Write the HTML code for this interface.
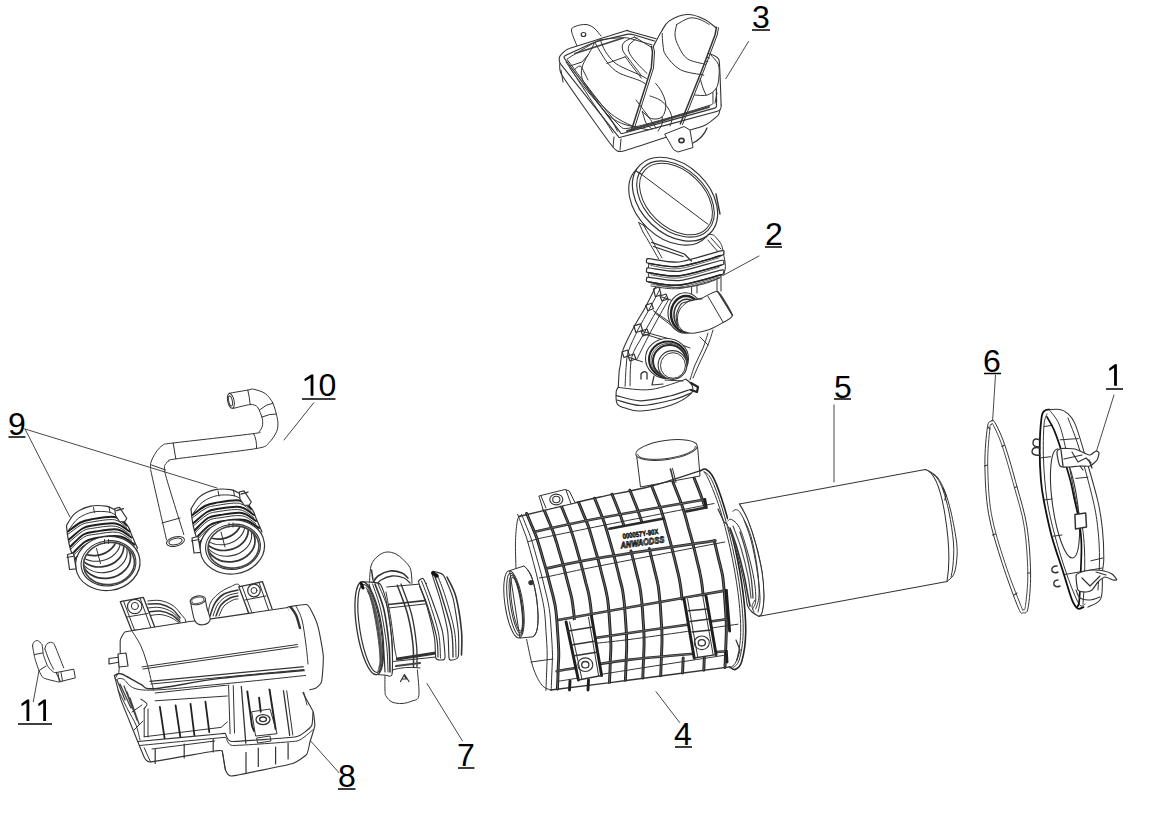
<!DOCTYPE html>
<html><head><meta charset="utf-8"><style>
html,body{margin:0;padding:0;background:#fff;width:1156px;height:829px;overflow:hidden}
svg{display:block}
text{font-family:"Liberation Sans",sans-serif;fill:#000}
</style></head><body>
<svg width="1156" height="829" viewBox="0 0 1156 829">
<g fill="none" stroke="#333" stroke-width="1" stroke-linejoin="round" stroke-linecap="round">
<g id="labels" stroke="none">
<text x="752" y="27.7" font-size="32">3</text>
<text x="765" y="244.7" font-size="32">2</text>
<text x="834" y="397.7" font-size="32">5</text>
<text x="983" y="371.7" font-size="32">6</text>
<path fill="#000" stroke="none" d="M1116.9,364.2 L1116.9,385.7 L1114.1000000000001,385.7 L1114.1000000000001,367.8 L1109.5,371.0 L1109.1,368.59999999999997 L1114.7,364.2 Z"/>
<text x="674" y="744.7" font-size="32">4</text>
<text x="457" y="765.7" font-size="32">7</text>
<text x="338" y="786.7" font-size="32">8</text>
<text x="8" y="434.7" font-size="32">9</text>
<path fill="#000" stroke="none" d="M313.4,374.5 L313.4,395.8 L310.59999999999997,395.8 L310.59999999999997,378.1 L304.79999999999995,381.3 L304.4,378.9 L311.2,374.5 Z"/><text x="318.5" y="396" font-size="32">0</text>
<path fill="#000" stroke="none" d="M29.3,699.4 L29.3,720.9 L26.5,720.9 L26.5,703.0 L21.7,706.1999999999999 L21.3,703.8 L27.1,699.4 Z"/><path fill="#000" stroke="none" d="M46,699.4 L46,720.9 L43.2,720.9 L43.2,703.0 L38.6,706.1999999999999 L38.2,703.8 L43.8,699.4 Z"/>
</g>
<g id="underlines" stroke="#000" stroke-width="1.6" stroke-linecap="butt">
<path d="M752,30H770 M765,247H782 M834,399H851 M984,373.5H1001 M1106,389H1123 M675,747H692 M458,768H474.5 M338,789H355.5 M8.5,437H25.5 M302,399H335.5 M18,724H52"/>
</g>
<g id="leaders" stroke="#333" stroke-width="0.9">
<path d="M748.5,41.5L725.8,78.7"/>
<path d="M759,256L723,275.5"/>
<path d="M834,405V482"/>
<path d="M995.5,375L992.6,421"/>
<path d="M1114,395L1094,459"/>
<path d="M656,691.6L679.6,722.5"/>
<path d="M427,683.5L462.3,740.7"/>
<path d="M310.4,740.7L339,772.7"/>
<path d="M25,429L69.9,517 M25,429L217,488"/>
<path d="M313.8,402.7L284,440"/>
<path d="M33.3,701.8L39,670.6"/>
</g>

<g id="p2">
<path fill="#fff" stroke="none" d="M655.6,286.9C655.2,289.2 647.6,303.1 645.8,306.5C644.0,309.9 635.8,323.5 633.9,327.1C632.0,330.7 624.2,346.2 623.0,349.9C621.8,353.6 619.6,367.9 619.2,371.0C618.8,374.1 618.5,385.7 618.2,387.4C618.0,389.1 616.3,390.1 616.2,391.5C616.1,392.9 615.2,402.2 617.2,403.8C619.2,405.4 636.3,410.9 640.8,411.0C645.3,411.1 667.3,406.3 671.5,404.9C675.7,403.4 689.3,395.2 691.0,393.6C692.7,392.0 692.2,386.9 692.0,385.4C691.8,383.8 688.2,377.5 688.0,375.0C687.8,372.5 689.0,358.5 690.0,355.0C691.0,351.5 697.2,335.7 700.0,333.0C702.8,330.3 720.5,323.9 723.2,322.4C725.9,320.9 732.8,317.8 732.3,315.2C731.8,312.6 718.7,295.0 717.8,291.7C716.9,288.4 727.6,277.1 722.0,276.0C716.4,274.9 655.5,278.1 650.0,279.0C644.5,279.9 656.0,284.6 655.6,286.9Z"/>
<path stroke-width="1.1" d="M655.6,286.9C654.0,290.2 649.4,299.8 645.8,306.5C642.2,313.2 637.7,319.9 633.9,327.1C630.1,334.3 625.3,343.6 623.0,349.9C620.7,356.2 620.9,361.5 620.3,365.0C619.7,368.5 619.6,367.3 619.2,371.0C618.9,374.7 618.4,384.7 618.2,387.4"/>
<path d="M660.0,289.0C658.2,292.4 652.6,303.0 649.0,309.7C645.4,316.4 641.6,322.4 638.2,329.3C634.8,336.2 630.5,345.1 628.5,351.0C626.5,356.9 626.9,358.8 626.3,365.0C625.7,371.2 625.2,384.2 625.0,388.0"/>
<path d="M665.4,296.7C663.4,300.0 657.2,309.8 653.4,316.3C649.6,322.8 646.2,328.9 642.6,335.8C639.0,342.7 633.8,348.8 631.7,357.5C629.6,366.2 630.3,382.9 630.0,388.0"/>
<path d="M668.6,299.6C666.8,302.8 661.3,312.3 657.8,318.7C654.3,325.1 651.0,331.1 647.5,338.0C644.0,344.9 638.3,356.3 636.5,360.0"/>
<path d="M661,296.7 L670.8,300"/>
<path d="M653.4,310.8 L675.1,326"/>
<path d="M642.6,331.5 L674,340.1"/>
<path d="M629.5,357.5 L642.6,361.9"/>
<path d="M675,342.3 L690,348"/>
<path d="M700,337 L708,345"/>
<path d="M655,313 L676,329"/>
<path d="M644,334 L672,342.5"/>
<path stroke-width="1.2" d="M653.4,289 L659,287 L661,294.7 L655.4,296.7 Z"/>
<path stroke-width="1.2" d="M645.8,305.2 L651.4,303.2 L653.4,308.8 L647.8,310.8 Z"/>
<path stroke-width="1.2" d="M633.9,325.9 L640.6,323.9 L642.6,330.5 L635.9,332.5 Z"/>
<path stroke-width="1.2" d="M622,352 L627.5,350 L629.5,355.5 L624,357.5 Z"/>
<path stroke-width="1.2" d="M660,296 L666,294 L668,299 L662,301 Z"/>
<path stroke-width="1.2" d="M641,331 L647,329 L649,334 L643,336 Z"/>
<path stroke-width="1.2" d="M628,356 L634,354 L636,359 L630,361 Z"/>
<path d="M708.0,333.0C707.2,335.5 705.2,342.7 703.0,348.0C700.8,353.3 697.2,359.7 695.0,365.0C692.8,370.3 690.8,377.5 690.0,380.0"/>
<path d="M713.0,330.0C712.2,332.5 710.2,339.7 708.0,345.0C705.8,350.3 702.5,356.5 700.0,362.0C697.5,367.5 694.2,375.3 693.0,378.0"/>
<path d="M691.6,286.5 L691.6,293.5 M697,286 L697,293 M717,278 L717,292 M721,277 L721,291"/>
<path fill="#fff" stroke-width="1.1" d="M618.2,387.4C617.9,388.1 616.4,388.8 616.2,391.5C616.0,394.2 615.7,401.1 617.2,403.8C618.7,406.6 621.1,406.8 625.0,408.0C628.9,409.2 633.0,411.5 640.8,411.0C648.5,410.5 663.1,407.8 671.5,404.9C679.9,402.0 687.6,396.9 691.0,393.6C694.4,390.4 692.9,387.8 692.0,385.4C691.1,383.0 686.9,380.2 685.9,379.2"/>
<path d="M618.2,387.4C623.7,387.8 639.7,390.9 651.0,389.5C662.3,388.1 680.1,380.9 685.9,379.2"/>
<path stroke-width="1.2" d="M616.5,395.6C620.5,396.5 631.9,400.7 640.8,400.8C649.7,400.9 661.8,397.9 670.0,396.0C678.2,394.1 686.7,390.6 690.0,389.5"/>
<path stroke-width="1.2" d="M617.0,400.0C621.0,400.9 631.6,405.5 640.8,405.5C650.0,405.5 663.6,402.1 672.0,400.0C680.4,397.9 687.8,394.2 691.0,393.0"/>
<path stroke="#222" stroke-width="2.2" d="M691,383 L698,387 L697,392 L691,390"/>
<path stroke-width="1.3" d="M641,379 L641,374 Q644,370 647,373 L647,379"/>
<ellipse cx="667" cy="358.5" rx="21.5" ry="20" stroke-width="1.1" fill="#fff"/>
<ellipse cx="668" cy="359.5" rx="19" ry="18" stroke="#222" stroke-width="2"/>
<ellipse cx="669.5" cy="361" rx="16.5" ry="16" stroke="#2a2a2a" stroke-width="2"/>
<ellipse cx="668.8" cy="360.3" rx="17.8" ry="17" stroke="#555" stroke-width="1"/>
<ellipse cx="672.5" cy="365" rx="14.4" ry="14.4" fill="#fff" stroke-width="1.1"/>
<ellipse cx="673" cy="365.5" rx="12.5" ry="12.8"/>
<path stroke-width="1.2" d="M654,376 L652,385 L663,384 M665,380 L683,381"/>
<ellipse cx="685.2" cy="313" rx="17.2" ry="20.3" stroke-width="1.1" fill="#fff"/>
<ellipse cx="686" cy="314" rx="15" ry="18" stroke="#222" stroke-width="2.4"/>
<ellipse cx="686.8" cy="315" rx="12.8" ry="15.8" stroke="#333" stroke-width="1.6"/>
<path fill="#fff" stroke-width="1.1" d="M695.2,299.8C697.3,299.2 700.1,298.8 702.4,298.0C704.7,297.2 714.8,290.0 717.8,291.7C720.8,293.4 731.8,312.1 732.3,315.2C732.8,318.3 725.6,320.9 723.2,322.4C720.9,323.8 712.0,328.6 708.8,329.7C705.6,330.8 694.6,333.4 691.6,333.3C688.6,333.2 680.4,330.6 678.9,328.8C677.4,327.0 675.9,317.7 676.2,315.2C676.5,312.7 679.7,305.0 681.6,303.5C683.5,302.0 693.1,300.4 695.2,299.8Z"/>
<path d="M707.9,296.2 L723.2,322.4"/><path stroke-width="1.3" d="M717.8,291.7 L732.3,315.2"/>
<path d="M702.0,299.0C699.8,299.3 692.8,299.0 689.0,301.0C685.2,303.0 680.8,307.2 679.0,311.0C677.2,314.8 677.2,320.5 678.0,324.0C678.8,327.5 683.0,330.7 684.0,332.0"/>
<path fill="#fff" d="M649.0,259.8C649.5,263.5 645.6,277.2 651.8,281.8C658.0,286.4 674.5,288.3 686.2,287.2C698.0,286.1 716.2,281.4 722.3,275.4C728.4,269.4 723.7,257.2 723.0,251.3C722.3,245.4 720.7,242.8 718.2,240.0C715.7,237.2 714.4,233.7 708.0,234.4C701.6,235.1 691.5,246.0 680.0,244.0C668.5,242.0 645.7,226.2 638.8,222.6"/>
<path fill="#fff" stroke-width="1.2" d="M647.0,278.1C647.3,277.8 645.3,277.0 649.0,277.3C652.7,277.6 670.6,281.4 679.0,280.6C687.4,279.8 715.8,271.1 721.0,270.1C726.2,269.1 723.5,271.7 723.5,272.2C723.5,272.7 726.2,273.3 721.0,274.8C715.8,276.3 687.4,284.3 679.0,285.1C670.6,285.9 652.8,282.6 649.0,282.0C645.2,281.4 646.7,280.6 646.5,280.1C646.3,279.6 646.7,278.4 647.0,278.1Z"/>
<path stroke="#222" stroke-width="1.5" d="M649.0,282.0C654.0,282.5 667.0,286.3 679.0,285.1C691.0,283.9 714.0,276.5 721.0,274.8"/>
<path stroke="#555" stroke-width="0.9" d="M651.0,284.1C655.7,284.6 667.7,288.4 679.0,287.2C690.3,286.0 712.3,278.7 719.0,277.0"/>
<path fill="#fff" stroke-width="1.2" d="M647.0,268.8C647.3,268.5 645.3,267.7 649.0,268.0C652.7,268.3 670.6,272.2 679.0,271.3C687.4,270.4 715.8,261.5 721.0,260.5C726.2,259.5 723.5,262.1 723.5,262.6C723.5,263.1 726.2,263.7 721.0,265.2C715.8,266.7 687.4,274.9 679.0,275.8C670.6,276.7 652.8,273.3 649.0,272.7C645.2,272.1 646.7,271.3 646.5,270.8C646.3,270.3 646.7,269.1 647.0,268.8Z"/>
<path stroke="#222" stroke-width="1.5" d="M649.0,272.7C654.0,273.2 667.0,277.1 679.0,275.8C691.0,274.6 714.0,267.0 721.0,265.2"/>
<path stroke="#555" stroke-width="0.9" d="M651.0,274.8C655.7,275.3 667.7,279.1 679.0,277.9C690.3,276.7 712.3,269.2 719.0,267.4"/>
<path fill="#fff" stroke-width="1.2" d="M647.0,259.5C647.3,259.2 645.3,258.4 649.0,258.7C652.7,259.0 670.6,262.9 679.0,262.0C687.4,261.1 715.8,252.0 721.0,250.9C726.2,249.8 723.5,252.5 723.5,253.0C723.5,253.5 726.2,254.0 721.0,255.6C715.8,257.2 687.4,265.6 679.0,266.5C670.6,267.4 652.8,264.0 649.0,263.4C645.2,262.8 646.7,262.0 646.5,261.5C646.3,261.0 646.7,259.8 647.0,259.5Z"/>
<path stroke="#222" stroke-width="1.5" d="M649.0,263.4C654.0,263.9 667.0,267.8 679.0,266.5C691.0,265.2 714.0,257.4 721.0,255.6"/>
<path stroke="#555" stroke-width="0.9" d="M651.0,265.5C655.7,266.0 667.7,269.9 679.0,268.6C690.3,267.3 712.3,259.6 719.0,257.8"/>
<path stroke="#444" stroke-width="1" d="M651.0,286.0C655.8,286.4 668.5,289.8 680.0,288.5C691.5,287.2 713.3,279.8 720.0,278.0"/>
<path d="M638.8,222.6C639.5,224.2 641.5,229.1 643.0,232.0C644.5,234.9 645.2,235.5 647.8,240.0C650.4,244.5 656.9,255.8 658.7,259.0"/>
<path d="M643.0,224.0C643.8,225.5 646.5,230.3 648.0,233.0C649.5,235.7 649.7,235.8 652.0,240.0C654.3,244.2 660.3,255.0 662.0,258.0"/>
<path stroke-width="1.3" d="M651.7,242.3 L684.4,254 L691.4,261 M653.5,246.5 L683,256.5"/>
<path d="M707.8,240 L717.9,251.7 M711,238 L721,249"/>
<ellipse cx="671" cy="203.5" rx="48.5" ry="34" transform="rotate(43.7 671 203.5)" fill="#fff" stroke-width="1.1"/>
<ellipse cx="675" cy="199.2" rx="48.9" ry="34.3" transform="rotate(43.7 675 199.2)" fill="#fff" stroke-width="1.2"/>
<ellipse cx="675.5" cy="199" rx="45" ry="30.5" transform="rotate(43.7 675.5 199)" stroke-width="1.1"/>
<ellipse cx="676" cy="199" rx="42.5" ry="28.3" transform="rotate(43.7 676 199)" stroke-width="1"/>
<path d="M640.5,173.6 L708,224.3"/>
<path stroke-width="1.4" d="M636,171 L641,174 M716,194 L720,214"/>
</g>
<g id="p3">
<path fill="#fff" d="M577.0,46.0C576.1,43.5 571.8,34.2 571.5,31.0C571.2,27.8 572.6,27.6 575.0,26.5C577.4,25.4 582.8,24.2 586.0,24.5C589.2,24.8 591.5,26.1 594.0,28.0C596.5,29.9 599.8,34.7 601.0,36.0"/>
<ellipse cx="583.5" cy="34.5" rx="2.3" ry="2" stroke-width="1.2"/>
<path fill="#fff" stroke-width="1.05" d="M560.0,60.0C560.1,61.1 558.7,69.1 560.9,73.3C563.1,77.5 581.6,103.8 586.0,110.0C590.4,116.2 610.3,144.1 613.3,147.5C616.3,150.9 617.9,152.1 622.4,151.2C626.9,150.3 660.8,138.8 667.6,136.7C674.4,134.6 699.6,127.6 703.8,125.8C708.0,124.0 716.9,116.8 718.3,115.0C719.7,113.2 720.8,104.9 721.0,104.0"/>
<path d="M561,70 L563,82 M614,137 L613,147 M621,139 L620,150"/>
<path fill="#fff" d="M665.0,134.0 L684.0,126.5 L690.0,130.0 L693.0,147.5 L678.0,152.0 L674.0,150.0Z"/>
<ellipse cx="681.5" cy="140.5" rx="2.6" ry="2.1" stroke-width="1.6"/>
<path stroke-width="1.3" d="M693,143 Q703,138 707,128"/>
<path fill="#fff" stroke-width="1.1" d="M560.0,56.1C560.4,55.3 564.8,50.2 568.1,48.9C571.4,47.6 622.9,31.7 626.0,30.8C629.1,29.9 625.8,30.3 630.0,31.5C634.2,32.7 706.5,52.8 711.0,54.3C715.5,55.8 718.7,58.2 719.2,60.7C719.7,63.2 721.1,101.6 721.0,104.1C720.9,106.6 722.3,109.7 717.4,111.3C712.5,112.9 627.4,135.5 622.4,136.7C617.4,137.9 620.1,138.5 617.0,134.9C613.9,131.3 563.8,68.2 560.9,64.3C558.0,60.4 559.6,56.9 560.0,56.1Z"/>
<path stroke-width="1.2" d="M565.6,60.0C562.9,56.3 564.1,56.4 565.6,55.5C567.1,54.6 591.7,43.4 594.8,42.3C597.9,41.2 624.7,34.7 626.7,34.3C628.7,33.9 630.5,33.8 634.6,35.0C638.7,36.2 705.2,56.6 709.2,58.0C713.2,59.4 715.2,60.2 715.6,62.5C716.0,64.8 716.6,101.8 716.5,104.1C716.4,106.4 717.5,107.2 712.9,108.6C708.3,110.0 628.9,131.9 624.2,133.0C619.5,134.1 621.7,134.0 618.8,130.3C615.9,126.7 568.3,63.7 565.6,60.0Z"/>
<path d="M569.0,62.0C566.2,58.5 566.8,59.3 568.3,58.2C569.8,57.1 595.8,41.3 598.8,40.3C601.8,39.3 622.6,36.9 628.0,38.0C633.4,39.1 702.8,60.1 707.0,61.5C711.2,62.9 711.7,63.5 712.0,65.5C712.3,67.5 713.1,100.0 713.0,102.0C712.9,104.0 713.5,104.2 709.0,105.5C704.5,106.8 630.3,130.7 623.3,128.5C616.3,126.3 571.8,65.5 569.0,62.0Z"/>
<path stroke="#444" stroke-width="2" d="M627.0,131.0 L709.0,107.0"/>
<path stroke="#444" stroke-width="1.8" d="M575.0,53.5 L623.0,38.0"/>
<path d="M594.8,42.3C594.1,43.6 592.8,46.5 590.8,50.2C588.8,54.0 584.4,60.6 582.9,64.8C581.4,69.0 581.1,72.1 581.5,75.4C581.9,78.7 582.2,79.8 585.5,84.7C588.8,89.6 596.5,99.3 601.4,104.6C606.3,109.9 609.6,113.1 614.7,116.6C619.8,120.1 626.5,123.6 632.0,125.8C637.5,128.0 645.2,129.1 647.9,129.8"/>
<path d="M594.8,42.3C595.7,43.8 597.9,48.0 600.1,51.5C602.3,55.0 605.0,60.0 608.1,63.5C611.2,67.0 613.4,69.9 618.7,72.8C624.0,75.7 635.0,78.5 639.9,80.7C644.8,82.9 645.9,84.5 647.9,86.0C649.9,87.5 651.3,89.3 652.0,90.0"/>
<path d="M600.1,39.6C601.0,41.6 603.1,47.8 605.4,51.5C607.7,55.2 610.9,59.2 614.0,62.0C617.1,64.8 619.3,65.7 624.0,68.0C628.7,70.3 637.3,73.7 642.0,76.0C646.7,78.3 650.3,81.0 652.0,82.0"/>
<path d="M606.8,63.5 L625.3,56.8"/>
<path d="M625.3,56.8C626.4,58.3 629.3,62.5 632.0,66.0C634.7,69.5 639.8,76.1 641.3,78.1"/>
<path d="M634.6,37.0C632.8,37.9 626.0,40.1 624.0,42.3C622.0,44.5 621.8,47.3 622.7,50.2C623.6,53.1 626.2,55.3 629.3,59.5C632.4,63.7 639.3,72.8 641.3,75.4"/>
<path d="M637.0,38.0C635.7,39.1 630.6,42.6 629.3,44.9C628.0,47.2 627.9,49.1 629.0,52.0C630.1,54.9 632.4,58.1 636.0,62.2C639.6,66.3 648.1,74.4 650.5,76.8"/>
<path d="M634.6,37.0 L651.9,47.6"/>
<path d="M569.6,67.5C571.3,69.9 575.8,76.6 580.0,82.0C584.2,87.4 590.0,94.0 595.0,100.0C600.0,106.0 606.3,112.8 610.0,118.0C613.7,123.2 616.2,129.0 617.4,131.2"/>
<path d="M566.0,62.0C568.0,65.0 573.5,73.2 578.0,80.0C582.5,86.8 588.3,96.0 593.0,103.0C597.7,110.0 602.7,117.0 606.0,122.0C609.3,127.0 611.8,131.2 613.0,133.0"/>
<path d="M570.0,66.0 L582.0,62.0 L588.0,55.0"/><path d="M574.0,70.0C575.0,69.3 578.3,65.7 580.0,66.0C581.7,66.3 582.7,69.7 584.0,72.0C585.3,74.3 587.3,78.7 588.0,80.0"/>
<path d="M597.5,102.0C599.3,104.2 604.1,111.7 608.1,115.2C612.1,118.7 616.8,121.2 621.3,123.2C625.8,125.2 632.7,126.4 635.0,127.0"/>
<path fill="#fff" d="M651.3,78.8C652.8,80.6 658.0,85.4 660.4,89.6C662.8,93.8 665.5,99.6 665.8,104.1C666.1,108.6 664.6,114.4 662.2,116.8C659.8,119.2 654.6,119.5 651.3,118.6C648.0,117.7 643.8,112.5 642.3,111.3"/>
<path d="M642.3,111.3C642.9,113.2 644.4,120.0 646.0,123.0C647.6,126.0 651.0,128.0 652.0,129.0"/>
<path d="M662.2,116.8C662.2,118.0 662.7,121.6 662.0,124.0C661.3,126.4 658.7,129.8 658.0,131.0"/>
<path fill="#fff" d="M711.0,55.2C712.2,56.7 717.0,60.8 718.3,64.3C719.6,67.8 719.3,72.1 719.0,76.0C718.7,79.9 718.4,84.6 716.5,87.8C714.6,91.0 711.0,93.8 707.4,95.0C703.8,96.2 696.9,95.0 694.8,95.0"/>
<path d="M700.2,78.8C700.7,80.3 702.0,85.3 703.0,88.0C704.0,90.7 705.5,93.8 706.0,95.0"/>
<path d="M715.0,103.0 L717.0,93.0"/>
<path fill="#fff" stroke="none" d="M651.3,46.2 L661.3,31.7 L687.5,14.5 L716.5,28.1 L702.0,69.7 L690.0,90.0 L660.0,80.0 L645.0,90.0Z"/>
<path stroke-width="1.1" d="M653.0,47.0C654.4,44.5 658.6,36.0 661.3,31.7C664.0,27.3 665.0,23.8 669.4,20.9C673.8,18.0 681.8,14.8 687.5,14.5C693.2,14.2 699.0,16.7 703.8,19.0C708.6,21.3 714.4,26.6 716.5,28.1"/>
<path d="M676.7,24.5C678.8,23.4 685.4,18.9 689.3,18.1C693.2,17.3 696.7,18.4 700.0,19.5C703.3,20.6 707.7,23.7 709.2,24.5"/>
<path d="M676.7,24.5C676.4,26.2 674.7,31.4 675.0,35.0C675.3,38.6 676.4,42.2 678.5,46.2C680.6,50.2 683.0,55.9 687.5,58.9C692.0,61.9 702.6,63.4 705.6,64.3"/>
<path d="M662.2,33.5C662.3,35.4 662.4,41.4 663.0,45.0C663.6,48.6 662.9,51.1 665.8,55.2C668.7,59.3 674.0,66.4 680.3,69.7C686.6,73.0 699.9,74.2 703.8,75.1"/>
<path d="M650.0,96.0C651.7,96.7 657.0,98.0 660.0,100.0C663.0,102.0 666.0,105.0 668.0,108.0C670.0,111.0 671.7,115.0 672.0,118.0C672.3,121.0 670.3,124.7 670.0,126.0"/>
<path d="M636.0,100.0C638.0,102.7 644.7,111.3 648.0,116.0C651.3,120.7 654.7,126.0 656.0,128.0"/>
<path stroke-width="1.5" d="M651.3,46.2 L652.5,52 L651.3,67.9 L631.4,130.3"/><path d="M653.5,47 L654.5,52 L653.5,68 L633.6,130.8"/>
<path stroke-width="1.5" d="M716.5,27.2 L715,35 L702,69.7 L680.3,124"/><path d="M718.5,27.7 L717.2,35 L704,70 L682.5,124.5"/>
</g>
<g id="p4">
<path fill="#fff" stroke="none" d="M519.0,516.5C526.0,512.9 584.9,500.8 600.0,497.0C615.1,493.2 691.8,472.9 700.6,470.6C709.4,468.3 704.8,468.6 705.9,469.3C707.0,470.0 712.4,475.4 713.9,478.6C715.4,481.8 722.7,502.0 724.5,507.7C726.3,513.4 733.5,540.4 735.0,547.5C736.5,554.6 742.1,585.5 743.0,592.6C743.9,599.7 745.8,626.6 745.7,632.4C745.6,638.1 742.6,658.5 741.7,661.6C740.8,664.7 736.0,669.1 735.0,669.5C734.0,669.9 738.5,666.0 729.8,666.9C721.0,667.8 644.9,678.1 630.0,680.0C615.1,681.9 558.1,689.6 550.7,690.0C543.4,690.4 543.3,686.9 541.8,685.0C540.3,683.1 534.3,671.0 533.0,667.2C531.7,663.4 528.0,647.6 526.6,639.4C525.2,631.2 517.3,576.7 516.5,568.5C515.7,560.3 516.3,544.9 516.5,540.6C516.7,536.3 512.0,520.1 519.0,516.5Z"/>
<path fill="#fff" d="M636.8,457 L640.5,487 L700,476 L697.6,447"/>
<ellipse cx="666.5" cy="450.0" rx="31.0" ry="9.5" transform="rotate(-8 666.5 450.0)"/>
<path d="M695.2,446.5C695.1,446.8 695.1,447.8 694.6,448.5C694.2,449.2 693.4,449.9 692.4,450.6C691.5,451.3 690.2,452.0 688.7,452.7C687.3,453.4 685.6,454.1 683.7,454.7C681.9,455.4 679.8,456.0 677.7,456.5C675.6,457.0 673.3,457.5 671.1,457.9C668.8,458.3 666.4,458.6 664.1,458.9C661.9,459.1 659.5,459.3 657.4,459.3C655.2,459.4 653.0,459.4 651.1,459.3C649.2,459.2 647.3,459.0 645.7,458.8C644.2,458.5 642.7,458.2 641.6,457.8C640.4,457.3 639.5,456.9 638.9,456.3C638.2,455.8 638.0,454.8 637.8,454.5"/>
<path stroke-width="1.3" d="M519.0,516.5C525.8,514.8 546.5,509.8 560.0,506.5C573.5,503.2 585.0,500.3 600.0,497.0C615.0,493.7 633.2,490.9 650.0,486.5C666.8,482.1 692.2,473.2 700.6,470.6"/>
<path stroke-width="1.3" d="M550.7,690.0C563.9,688.3 600.1,683.9 630.0,680.0C659.9,676.1 713.2,669.1 729.8,666.9"/>
<path d="M521.0,515.5C520.4,516.2 518.4,515.8 517.5,520.0C516.6,524.2 515.8,532.5 515.5,540.6C515.2,548.7 515.9,563.9 516.0,568.5"/>
<path d="M526.6,639.4C527.7,644.0 530.5,659.6 533.0,667.2C535.5,674.8 538.8,681.2 541.8,685.0C544.8,688.8 549.2,689.2 550.7,690.0"/>
<path d="M517.6,514.4C518.4,516.4 520.7,522.2 522.2,526.1C523.6,530.0 525.3,534.0 526.6,537.9C527.8,541.8 528.8,545.7 529.9,549.6C531.0,553.5 532.0,557.4 533.1,561.3C534.1,565.2 535.2,569.2 536.2,573.1C537.2,577.0 538.1,580.9 539.0,584.8C539.9,588.7 540.9,592.6 541.8,596.5C542.6,600.4 543.5,604.4 544.1,608.3C544.7,612.2 545.0,616.1 545.3,620.0C545.6,623.9 545.8,627.8 546.0,631.7C546.3,635.6 546.6,639.6 546.8,643.5C547.0,647.4 547.2,651.3 547.2,655.2C547.2,659.1 546.9,663.0 546.8,666.9C546.7,670.8 546.5,674.8 546.4,678.7C546.2,682.6 546.0,688.4 545.9,690.4"/>
<path d="M521.6,514.4C522.4,516.4 524.8,522.2 526.3,526.1C527.9,530.0 529.6,534.0 530.9,537.9C532.3,541.8 533.3,545.7 534.4,549.6C535.6,553.5 536.6,557.4 537.7,561.3C538.8,565.2 540.0,569.2 541.0,573.1C542.1,577.0 543.0,580.9 543.9,584.8C544.9,588.7 545.9,592.6 546.8,596.5C547.7,600.4 548.6,604.4 549.2,608.3C549.8,612.2 550.2,616.1 550.5,620.0C550.8,623.9 551.0,627.8 551.3,631.7C551.5,635.6 551.8,639.6 552.0,643.5C552.2,647.4 552.5,651.3 552.5,655.2C552.5,659.1 552.2,663.0 552.1,666.9C551.9,670.8 551.8,674.8 551.6,678.7C551.5,682.6 551.2,688.4 551.2,690.4"/>
<path d="M528.4,541.7 L538.0,538.7"/><path d="M539.3,577.9 L547.7,576.7"/>
<path d="M531.0,662.0 L553.0,659.0"/>
<path fill="#fff" d="M510,570.5 L524,566 C532,572 537,590 538,615 C538.5,628 536,636 533,636.8 L520.3,638 Z"/>
<ellipse cx="514.0" cy="604.3" rx="9.0" ry="34.0" transform="rotate(-8.5 514.0 604.3)"/>
<ellipse cx="515.0" cy="604.3" rx="7.0" ry="31.5" transform="rotate(-8.5 515.0 604.3)"/>
<ellipse cx="516.0" cy="604.3" rx="5.5" ry="29.0" transform="rotate(-8.5 516.0 604.3)"/>
<ellipse cx="516.5" cy="604.3" rx="4.5" ry="27.0" transform="rotate(-8.5 516.5 604.3)"/>
<path d="M524.0,566.0C525.2,567.5 529.0,570.2 531.0,575.0C533.0,579.8 534.8,588.3 536.0,595.0C537.2,601.7 537.8,609.2 538.0,615.0C538.2,620.8 537.8,626.4 537.0,630.0C536.2,633.6 533.7,635.7 533.0,636.8"/>
<circle cx="530.9" cy="582.7" r="2.2" fill="#333" stroke-width="1"/>
<path stroke="#1e1e1e" stroke-width="2.9" d="M526.6,513.4C527.4,515.4 529.9,521.2 531.5,525.1C533.2,529.0 534.9,532.9 536.3,536.8C537.7,540.7 538.8,544.6 540.0,548.5C541.1,552.4 542.3,556.4 543.4,560.3C544.6,564.2 545.8,568.1 546.8,572.0C547.9,575.9 548.8,579.8 549.8,583.7C550.8,587.6 551.9,591.5 552.9,595.4C553.8,599.3 554.7,603.2 555.4,607.1C556.0,611.0 556.4,614.9 556.7,618.8C557.1,622.7 557.3,626.6 557.5,630.5C557.8,634.4 558.1,638.3 558.3,642.3C558.5,646.2 558.8,650.1 558.8,654.0C558.8,657.9 558.5,661.8 558.3,665.7C558.2,669.6 558.0,673.5 557.9,677.4C557.7,681.3 557.5,687.2 557.4,689.1"/><path stroke="#9a9a9a" stroke-width="0.6" d="M526.6,513.4C527.4,515.4 529.9,521.2 531.5,525.1C533.2,529.0 534.9,532.9 536.3,536.8C537.7,540.7 538.8,544.6 540.0,548.5C541.1,552.4 542.3,556.4 543.4,560.3C544.6,564.2 545.8,568.1 546.8,572.0C547.9,575.9 548.8,579.8 549.8,583.7C550.8,587.6 551.9,591.5 552.9,595.4C553.8,599.3 554.7,603.2 555.4,607.1C556.0,611.0 556.4,614.9 556.7,618.8C557.1,622.7 557.3,626.6 557.5,630.5C557.8,634.4 558.1,638.3 558.3,642.3C558.5,646.2 558.8,650.1 558.8,654.0C558.8,657.9 558.5,661.8 558.3,665.7C558.2,669.6 558.0,673.5 557.9,677.4C557.7,681.3 557.5,687.2 557.4,689.1"/>
<path stroke="#1e1e1e" stroke-width="2.9" d="M544.0,509.8C544.8,511.6 547.1,517.1 548.6,520.8C550.1,524.5 551.8,528.2 553.1,531.8C554.4,535.5 555.5,539.2 556.7,542.9C557.8,546.5 558.8,550.2 559.9,553.9C561.0,557.5 562.1,561.2 563.1,564.9C564.2,568.6 565.1,572.2 566.0,575.9C567.0,579.6 567.9,583.3 568.9,586.9C569.8,590.6 570.9,594.3 571.7,597.9C572.4,601.6 572.9,605.3 573.3,609.0C573.8,612.6 574.1,616.3 574.4,620.0C574.7,623.7 575.0,629.2 575.1,631.0"/><path stroke="#9a9a9a" stroke-width="0.6" d="M544.0,509.8C544.8,511.6 547.1,517.1 548.6,520.8C550.1,524.5 551.8,528.2 553.1,531.8C554.4,535.5 555.5,539.2 556.7,542.9C557.8,546.5 558.8,550.2 559.9,553.9C561.0,557.5 562.1,561.2 563.1,564.9C564.2,568.6 565.1,572.2 566.0,575.9C567.0,579.6 567.9,583.3 568.9,586.9C569.8,590.6 570.9,594.3 571.7,597.9C572.4,601.6 572.9,605.3 573.3,609.0C573.8,612.6 574.1,616.3 574.4,620.0C574.7,623.7 575.0,629.2 575.1,631.0"/>
<path stroke="#1e1e1e" stroke-width="2.9" d="M561.3,506.2C562.1,508.0 564.4,513.5 565.9,517.2C567.4,520.8 569.0,524.5 570.3,528.2C571.6,531.8 572.7,535.5 573.9,539.1C575.0,542.8 576.0,546.5 577.1,550.1C578.1,553.8 579.2,557.4 580.2,561.1C581.3,564.8 582.2,568.4 583.2,572.1C584.1,575.7 585.0,579.4 585.9,583.1C586.9,586.7 588.0,590.4 588.7,594.0C589.5,597.7 590.0,601.4 590.5,605.0C591.0,608.7 591.4,614.2 591.6,616.0"/><path stroke="#9a9a9a" stroke-width="0.6" d="M561.3,506.2C562.1,508.0 564.4,513.5 565.9,517.2C567.4,520.8 569.0,524.5 570.3,528.2C571.6,531.8 572.7,535.5 573.9,539.1C575.0,542.8 576.0,546.5 577.1,550.1C578.1,553.8 579.2,557.4 580.2,561.1C581.3,564.8 582.2,568.4 583.2,572.1C584.1,575.7 585.0,579.4 585.9,583.1C586.9,586.7 588.0,590.4 588.7,594.0C589.5,597.7 590.0,601.4 590.5,605.0C591.0,608.7 591.4,614.2 591.6,616.0"/>
<path stroke="#1e1e1e" stroke-width="2.9" d="M578.7,502.6C579.5,504.6 582.0,510.6 583.6,514.6C585.3,518.6 587.0,522.6 588.4,526.6C589.8,530.6 590.9,534.6 592.1,538.6C593.2,542.6 594.4,546.5 595.5,550.5C596.7,554.5 597.9,558.5 598.9,562.5C600.0,566.5 600.9,570.5 601.9,574.5C602.9,578.5 604.0,582.5 605.0,586.5C605.9,590.5 606.8,594.5 607.5,598.5C608.1,602.5 608.5,606.5 608.8,610.5C609.2,614.5 609.4,618.5 609.6,622.5C609.9,626.5 610.2,630.5 610.4,634.4C610.6,638.4 610.9,642.4 610.9,646.4C610.9,650.4 610.6,654.4 610.4,658.4C610.3,662.4 610.1,666.4 610.0,670.4C609.8,674.4 609.6,680.4 609.5,682.4"/><path stroke="#9a9a9a" stroke-width="0.6" d="M578.7,502.6C579.5,504.6 582.0,510.6 583.6,514.6C585.3,518.6 587.0,522.6 588.4,526.6C589.8,530.6 590.9,534.6 592.1,538.6C593.2,542.6 594.4,546.5 595.5,550.5C596.7,554.5 597.9,558.5 598.9,562.5C600.0,566.5 600.9,570.5 601.9,574.5C602.9,578.5 604.0,582.5 605.0,586.5C605.9,590.5 606.8,594.5 607.5,598.5C608.1,602.5 608.5,606.5 608.8,610.5C609.2,614.5 609.4,618.5 609.6,622.5C609.9,626.5 610.2,630.5 610.4,634.4C610.6,638.4 610.9,642.4 610.9,646.4C610.9,650.4 610.6,654.4 610.4,658.4C610.3,662.4 610.1,666.4 610.0,670.4C609.8,674.4 609.6,680.4 609.5,682.4"/>
<path stroke="#1e1e1e" stroke-width="2.9" d="M594.6,498.2C595.4,500.1 597.7,505.8 599.2,509.6C600.8,513.4 602.4,517.2 603.7,521.0C605.1,524.8 606.2,528.6 607.3,532.4C608.4,536.1 609.5,539.9 610.6,543.7C611.6,547.5 612.8,551.3 613.8,555.1C614.8,558.9 615.8,562.7 616.7,566.5C617.7,570.3 618.6,574.1 619.5,577.9C620.5,581.7 621.6,585.5 622.4,589.3C623.1,593.1 623.5,596.9 624.0,600.7C624.4,604.4 624.7,608.2 625.0,612.0C625.3,615.8 625.5,619.6 625.8,623.4C626.0,627.2 626.3,631.0 626.5,634.8C626.6,638.6 626.7,642.4 626.7,646.2C626.7,650.0 626.4,653.8 626.3,657.6C626.1,661.4 626.0,665.2 625.8,669.0C625.7,672.8 625.5,678.4 625.4,680.3"/><path stroke="#9a9a9a" stroke-width="0.6" d="M594.6,498.2C595.4,500.1 597.7,505.8 599.2,509.6C600.8,513.4 602.4,517.2 603.7,521.0C605.1,524.8 606.2,528.6 607.3,532.4C608.4,536.1 609.5,539.9 610.6,543.7C611.6,547.5 612.8,551.3 613.8,555.1C614.8,558.9 615.8,562.7 616.7,566.5C617.7,570.3 618.6,574.1 619.5,577.9C620.5,581.7 621.6,585.5 622.4,589.3C623.1,593.1 623.5,596.9 624.0,600.7C624.4,604.4 624.7,608.2 625.0,612.0C625.3,615.8 625.5,619.6 625.8,623.4C626.0,627.2 626.3,631.0 626.5,634.8C626.6,638.6 626.7,642.4 626.7,646.2C626.7,650.0 626.4,653.8 626.3,657.6C626.1,661.4 626.0,665.2 625.8,669.0C625.7,672.8 625.5,678.4 625.4,680.3"/>
<path stroke="#1e1e1e" stroke-width="2.9" d="M612.0,494.2C612.7,495.9 614.8,501.0 616.2,504.5C617.5,507.9 618.9,511.3 620.2,514.7C621.4,518.2 623.1,523.3 623.7,525.0"/><path stroke="#9a9a9a" stroke-width="0.6" d="M612.0,494.2C612.7,495.9 614.8,501.0 616.2,504.5C617.5,507.9 618.9,511.3 620.2,514.7C621.4,518.2 623.1,523.3 623.7,525.0"/>
<path stroke="#1e1e1e" stroke-width="2.9" d="M631.0,551.0C631.5,552.9 633.0,558.7 634.0,562.6C634.9,566.4 635.9,570.3 636.8,574.1C637.8,578.0 638.9,581.8 639.6,585.7C640.4,589.5 640.9,593.4 641.3,597.2C641.8,601.1 642.1,604.9 642.4,608.8C642.7,612.6 642.9,616.5 643.1,620.3C643.4,624.2 643.7,628.0 643.9,631.9C644.0,635.7 644.1,639.6 644.1,643.4C644.1,647.3 643.8,651.1 643.7,655.0C643.5,658.8 643.4,662.7 643.2,666.5C643.1,670.4 642.9,676.2 642.8,678.1"/><path stroke="#9a9a9a" stroke-width="0.6" d="M631.0,551.0C631.5,552.9 633.0,558.7 634.0,562.6C634.9,566.4 635.9,570.3 636.8,574.1C637.8,578.0 638.9,581.8 639.6,585.7C640.4,589.5 640.9,593.4 641.3,597.2C641.8,601.1 642.1,604.9 642.4,608.8C642.7,612.6 642.9,616.5 643.1,620.3C643.4,624.2 643.7,628.0 643.9,631.9C644.0,635.7 644.1,639.6 644.1,643.4C644.1,647.3 643.8,651.1 643.7,655.0C643.5,658.8 643.4,662.7 643.2,666.5C643.1,670.4 642.9,676.2 642.8,678.1"/>
<path stroke="#1e1e1e" stroke-width="2.9" d="M629.9,490.2C630.6,491.9 632.7,497.0 634.0,500.5C635.4,503.9 636.8,507.3 638.0,510.7C639.2,514.2 640.9,519.3 641.5,521.0"/><path stroke="#9a9a9a" stroke-width="0.6" d="M629.9,490.2C630.6,491.9 632.7,497.0 634.0,500.5C635.4,503.9 636.8,507.3 638.0,510.7C639.2,514.2 640.9,519.3 641.5,521.0"/>
<path stroke="#1e1e1e" stroke-width="2.9" d="M649.2,548.6C649.7,550.5 651.2,556.3 652.1,560.2C653.1,564.0 654.0,567.9 654.9,571.7C655.9,575.6 657.0,579.4 657.7,583.3C658.5,587.1 658.9,591.0 659.3,594.8C659.7,598.7 660.1,602.6 660.4,606.4C660.6,610.3 660.8,614.1 661.1,618.0C661.3,621.8 661.6,625.7 661.8,629.5C662.0,633.4 662.0,637.2 662.0,641.1C662.0,645.0 661.7,648.8 661.6,652.7C661.4,656.5 661.3,660.4 661.1,664.2C661.0,668.1 660.8,673.9 660.7,675.8"/><path stroke="#9a9a9a" stroke-width="0.6" d="M649.2,548.6C649.7,550.5 651.2,556.3 652.1,560.2C653.1,564.0 654.0,567.9 654.9,571.7C655.9,575.6 657.0,579.4 657.7,583.3C658.5,587.1 658.9,591.0 659.3,594.8C659.7,598.7 660.1,602.6 660.4,606.4C660.6,610.3 660.8,614.1 661.1,618.0C661.3,621.8 661.6,625.7 661.8,629.5C662.0,633.4 662.0,637.2 662.0,641.1C662.0,645.0 661.7,648.8 661.6,652.7C661.4,656.5 661.3,660.4 661.1,664.2C661.0,668.1 660.8,673.9 660.7,675.8"/>
<path stroke="#1e1e1e" stroke-width="2.9" d="M651.8,486.2C652.5,488.1 654.8,493.7 656.3,497.5C657.8,501.2 659.3,505.0 660.6,508.8C661.9,512.5 663.1,516.3 664.2,520.0C665.3,523.8 666.3,527.6 667.3,531.3C668.4,535.1 669.4,538.8 670.5,542.6C671.5,546.4 672.4,550.1 673.3,553.9C674.3,557.6 675.2,561.4 676.1,565.2C677.0,568.9 678.0,572.7 678.8,576.4C679.6,580.2 680.3,584.0 680.8,587.7C681.3,591.5 681.8,597.1 682.0,599.0"/><path stroke="#9a9a9a" stroke-width="0.6" d="M651.8,486.2C652.5,488.1 654.8,493.7 656.3,497.5C657.8,501.2 659.3,505.0 660.6,508.8C661.9,512.5 663.1,516.3 664.2,520.0C665.3,523.8 666.3,527.6 667.3,531.3C668.4,535.1 669.4,538.8 670.5,542.6C671.5,546.4 672.4,550.1 673.3,553.9C674.3,557.6 675.2,561.4 676.1,565.2C677.0,568.9 678.0,572.7 678.8,576.4C679.6,580.2 680.3,584.0 680.8,587.7C681.3,591.5 681.8,597.1 682.0,599.0"/>
<path stroke="#1e1e1e" stroke-width="2.9" d="M683.2,658.0C683.1,659.2 683.0,663.0 682.9,665.5C682.8,668.0 682.6,671.7 682.6,673.0"/><path stroke="#9a9a9a" stroke-width="0.6" d="M683.2,658.0C683.1,659.2 683.0,663.0 682.9,665.5C682.8,668.0 682.6,671.7 682.6,673.0"/>
<path stroke="#1e1e1e" stroke-width="2.9" d="M673.0,482.3C673.8,484.2 676.0,489.9 677.5,493.7C679.0,497.5 680.5,501.2 681.8,505.0C683.2,508.8 684.3,512.6 685.4,516.4C686.5,520.2 687.5,524.0 688.5,527.8C689.6,531.6 690.7,535.4 691.7,539.1C692.7,542.9 693.6,546.7 694.6,550.5C695.5,554.3 696.4,558.1 697.3,561.9C698.2,565.7 699.3,569.5 700.0,573.3C700.8,577.0 701.5,580.8 702.0,584.6C702.5,588.4 703.0,594.1 703.2,596.0"/><path stroke="#9a9a9a" stroke-width="0.6" d="M673.0,482.3C673.8,484.2 676.0,489.9 677.5,493.7C679.0,497.5 680.5,501.2 681.8,505.0C683.2,508.8 684.3,512.6 685.4,516.4C686.5,520.2 687.5,524.0 688.5,527.8C689.6,531.6 690.7,535.4 691.7,539.1C692.7,542.9 693.6,546.7 694.6,550.5C695.5,554.3 696.4,558.1 697.3,561.9C698.2,565.7 699.3,569.5 700.0,573.3C700.8,577.0 701.5,580.8 702.0,584.6C702.5,588.4 703.0,594.1 703.2,596.0"/>
<path stroke="#1e1e1e" stroke-width="2.9" d="M704.4,654.0C704.4,655.4 704.2,659.4 704.1,662.1C704.0,664.8 703.9,668.9 703.8,670.2"/><path stroke="#9a9a9a" stroke-width="0.6" d="M704.4,654.0C704.4,655.4 704.2,659.4 704.1,662.1C704.0,664.8 703.9,668.9 703.8,670.2"/>
<path stroke="#1e1e1e" stroke-width="2.9" d="M694.2,478.3C694.8,479.9 696.8,484.8 698.1,488.0C699.3,491.3 700.6,494.5 701.7,497.8C702.9,501.0 704.6,505.9 705.2,507.5"/><path stroke="#9a9a9a" stroke-width="0.6" d="M694.2,478.3C694.8,479.9 696.8,484.8 698.1,488.0C699.3,491.3 700.6,494.5 701.7,497.8C702.9,501.0 704.6,505.9 705.2,507.5"/>
<path stroke="#1e1e1e" stroke-width="2.9" d="M714.2,540.6C714.7,542.5 716.1,548.3 717.0,552.1C717.9,556.0 718.8,559.8 719.8,563.7C720.7,567.5 721.8,571.4 722.5,575.2C723.2,579.1 723.4,582.9 723.8,586.7C724.1,590.6 724.5,594.4 724.7,598.3C725.0,602.1 725.2,606.0 725.5,609.8C725.7,613.7 726.0,617.5 726.2,621.4C726.3,625.2 726.3,629.0 726.3,632.9C726.2,636.7 726.0,640.6 725.9,644.4C725.7,648.3 725.6,652.1 725.4,656.0C725.3,659.8 725.1,665.6 725.0,667.5"/><path stroke="#9a9a9a" stroke-width="0.6" d="M714.2,540.6C714.7,542.5 716.1,548.3 717.0,552.1C717.9,556.0 718.8,559.8 719.8,563.7C720.7,567.5 721.8,571.4 722.5,575.2C723.2,579.1 723.4,582.9 723.8,586.7C724.1,590.6 724.5,594.4 724.7,598.3C725.0,602.1 725.2,606.0 725.5,609.8C725.7,613.7 726.0,617.5 726.2,621.4C726.3,625.2 726.3,629.0 726.3,632.9C726.2,636.7 726.0,640.6 725.9,644.4C725.7,648.3 725.6,652.1 725.4,656.0C725.3,659.8 725.1,665.6 725.0,667.5"/>
<path stroke="#1e1e1e" stroke-width="2.9" d="M588.5,680 L588,690"/>
<path stroke="#1e1e1e" stroke-width="2.9" d="M570,681 L569.5,690"/>
<path stroke="#2a2a2a" stroke-width="2.6" d="M535.7,531.5C546.4,529.2 571.8,523.3 600.0,518.0C628.2,512.7 687.3,502.6 704.8,499.5"/><path stroke="#aaa" stroke-width="0.5" d="M535.7,531.5C546.4,529.2 571.8,523.3 600.0,518.0C628.2,512.7 687.3,502.6 704.8,499.5"/>
<path stroke="#2a2a2a" stroke-width="2.6" d="M546.5,568.3C555.4,566.6 571.9,562.5 600.0,557.9C628.1,553.3 696.2,543.5 715.4,540.6"/><path stroke="#aaa" stroke-width="0.5" d="M546.5,568.3C555.4,566.6 571.9,562.5 600.0,557.9C628.1,553.3 696.2,543.5 715.4,540.6"/>
<path stroke="#2a2a2a" stroke-width="2.6" d="M558.0,620.0C570.0,617.9 602.0,612.2 630.0,607.3C658.0,602.4 710.2,593.2 726.3,590.4"/><path stroke="#aaa" stroke-width="0.5" d="M558.0,620.0C570.0,617.9 602.0,612.2 630.0,607.3C658.0,602.4 710.2,593.2 726.3,590.4"/>
<path stroke="#2a2a2a" stroke-width="2.6" d="M576.0,640.8C589.2,638.9 629.7,632.8 655.0,629.2C680.3,625.6 715.8,620.7 728.0,619.0"/><path stroke="#aaa" stroke-width="0.5" d="M576.0,640.8C589.2,638.9 629.7,632.8 655.0,629.2C680.3,625.6 715.8,620.7 728.0,619.0"/>
<path stroke="#2a2a2a" stroke-width="2.6" d="M556.7,671.2C568.9,669.3 601.7,662.9 630.0,659.6C658.3,656.3 710.2,652.6 726.3,651.2"/><path stroke="#aaa" stroke-width="0.5" d="M556.7,671.2C568.9,669.3 601.7,662.9 630.0,659.6C658.3,656.3 710.2,652.6 726.3,651.2"/>
<path d="M538.0,538.7C548.3,536.6 570.7,531.9 600.0,526.0C629.3,520.1 695.0,507.2 714.0,503.5"/>
<path d="M547.7,576.7C556.4,574.9 570.5,571.6 600.0,565.8C629.5,560.0 703.9,546.0 724.7,542.0"/>
<path d="M576.3,645.0C585.2,644.1 603.0,642.9 630.0,639.4C657.0,635.9 720.0,626.7 738.0,624.2"/>
<path d="M558.0,681.3C570.0,679.4 602.0,674.2 630.0,669.8C658.0,665.4 710.2,657.5 726.3,655.0"/>
<path stroke="#1e1e1e" stroke-width="2.9" d="M704.8,499.5 L706.2,507.5"/>
<path stroke="#1e1e1e" stroke-width="2.9" d="M726.3,590.4 L729.6,631.0"/>
<path stroke="#1e1e1e" stroke-width="2.9" d="M726.3,651.2 L727.0,662.0"/>
<path fill="#fff" stroke="none" d="M566.1,622.0 L591.5,616.2 L601.6,675.5 L578.4,680.0Z"/>
<path stroke="#1e1e1e" stroke-width="2.9" d="M566.1,622.0 L578.4,680.0"/><path stroke="#1e1e1e" stroke-width="2.9" d="M591.5,616.2 L601.6,675.5"/>
<path d="M569.6,622.0 L581.9,679.0"/><path d="M588.5,617.2 L598.6,675.5"/>
<path stroke-width="1.4" d="M578.4,680.0 L601.6,675.5"/>
<path stroke-width="1.5" d="M568.0,631.0 L593.0,627.0"/>
<path stroke-width="1.5" d="M571.0,645.0 L596.0,641.0"/>
<path stroke-width="1.5" d="M573.0,656.0 L598.0,652.0"/>
<ellipse cx="585.3" cy="664.7" rx="7.5" ry="6.8" stroke-width="1.1"/><ellipse cx="585.3" cy="664.7" rx="3.6" ry="3.2" stroke-width="1.3"/>
<path fill="#fff" stroke="none" d="M684.0,598.8 L706.0,596.3 L716.1,654.6 L694.2,658.0Z"/>
<path stroke="#1e1e1e" stroke-width="2.9" d="M684.0,598.8 L694.2,658.0"/><path stroke="#1e1e1e" stroke-width="2.9" d="M706.0,596.3 L716.1,654.6"/>
<path d="M687.5,598.8 L697.7,657.0"/><path d="M703.0,597.3 L713.1,654.6"/>
<path stroke-width="1.4" d="M694.2,658.0 L716.1,654.6"/>
<path stroke-width="1.5" d="M688.3,610.7 L706.8,609.0"/>
<path stroke-width="1.5" d="M690.0,621.6 L709.4,619.0"/>
<path stroke-width="1.5" d="M692.0,632.0 L711.0,630.0"/>
<ellipse cx="701.8" cy="642.8" rx="7.5" ry="6.8" stroke-width="1.1"/><ellipse cx="701.8" cy="642.8" rx="3.6" ry="3.2" stroke-width="1.3"/>
<path fill="#fff" d="M543.2,509.8 L538.9,496.0 L565.0,489.5 L569.3,491.0 L575.0,502.6"/>
<ellipse cx="556.3" cy="499.5" rx="6.5" ry="5.4" stroke-width="1.1"/><ellipse cx="556.3" cy="499.5" rx="3.6" ry="3.2" stroke-width="1.1"/>
<path d="M541.0,496.0 L546.0,508.0"/><path d="M566.0,490.0 L571.0,504.0"/>
<path stroke-width="1.6" d="M670.5,469 L674,483"/><path d="M672.5,468.5 L676,482.5"/>
<path stroke="#222" stroke-width="1.6" d="M700.6,470.6C701.5,470.4 703.7,468.0 705.9,469.3C708.1,470.6 710.8,472.2 713.9,478.6C717.0,485.0 721.0,496.2 724.5,507.7C728.0,519.2 731.9,533.4 735.0,547.5C738.1,561.6 741.2,578.5 743.0,592.6C744.8,606.8 745.9,620.9 745.7,632.4C745.5,643.9 743.5,655.4 741.7,661.6C739.9,667.8 737.0,668.6 735.0,669.5C733.0,670.4 730.7,667.3 729.8,666.9"/>
<path d="M704.0,471.5C705.2,472.8 708.4,473.3 711.4,479.4C714.4,485.4 718.5,496.3 722.0,507.7C725.5,519.1 729.4,533.4 732.5,547.5C735.6,561.6 738.7,578.5 740.5,592.6C742.3,606.8 743.4,621.2 743.2,632.4C743.0,643.6 741.0,654.1 739.2,660.0C737.4,665.9 733.6,666.7 732.5,668.0"/>
<path d="M704.0,472.0C704.8,473.4 706.3,474.2 708.9,480.1C711.5,486.1 716.0,496.5 719.5,507.7C723.0,518.9 726.9,533.4 730.0,547.5C733.1,561.6 736.2,578.5 738.0,592.6C739.8,606.8 740.9,621.2 740.7,632.4C740.5,643.6 738.5,654.1 736.7,660.0C734.9,665.9 731.1,666.7 730.0,668.0"/>
<path stroke-width="1.2" d="M718,509 L724,522 L727,524"/>
<path stroke-width="1.2" d="M736,640 L740,650 L737,660"/>
<path stroke="#2a2a2a" stroke-width="2.6" d="M609.3,528.7 L663.7,518.5"/><path stroke="#2a2a2a" stroke-width="2.6" d="M686.3,511.4 L706.2,507.5"/>
<text x="623" y="539" font-size="7.5" font-weight="bold" transform="rotate(-8 623 539)" style="fill:#111" stroke="#111" stroke-width="0.5" textLength="36" lengthAdjust="spacingAndGlyphs">000057Y-90X</text>
<text x="621" y="548.5" font-size="9" font-weight="bold" font-style="italic" transform="rotate(-8 621 548.5)" style="fill:#fff" stroke="#222" stroke-width="0.9" textLength="44" lengthAdjust="spacingAndGlyphs">ANWAODSS</text>
</g>
<g id="p5">
<path fill="#fff" d="M925.3,469.5C926.4,470.1 929.7,471.4 931.8,472.8C933.9,474.2 935.8,474.9 938.0,478.0C940.2,481.1 942.6,485.6 944.8,491.3C947.0,497.0 949.0,503.3 951.0,512.0C953.0,520.7 955.8,535.1 956.7,543.4C957.6,551.7 957.0,556.8 956.5,562.0C956.0,567.2 955.1,571.7 953.5,574.9C951.9,578.1 948.1,580.3 947.0,581.4"/>
<path d="M929.0,471.0C930.3,472.2 934.7,474.8 937.0,478.0C939.3,481.2 941.0,484.3 943.0,490.0C945.0,495.7 947.2,503.2 949.0,512.0C950.8,520.8 952.8,534.2 953.5,543.0C954.2,551.8 953.4,559.3 953.0,565.0C952.6,570.7 951.3,575.0 951.0,577.0"/>
<path stroke-width="1.3" d="M943,488 L946,495 L945,500"/>
<path fill="#fff" stroke-width="1.05" d="M739.4,504 L925.3,469.5 C935,472 941,490 945,515 C949,540 950,565 947,581.4 L759,616.3 C762,614 764,605 763.9,596 C763.5,585 762.2,573.2 762.2,573.2 C760,560 757,548 755.7,543.9 C752,530 745,512 739.4,504 Z"/>
<path fill="#fff" stroke="none" d="M739.4,504.0C740.6,504.7 746.2,516.1 747.6,519.4C749.0,522.7 754.5,539.4 755.7,543.9C756.9,548.4 761.5,568.9 762.2,573.2C762.9,577.5 763.9,592.7 763.9,596.0C763.9,599.3 762.6,610.6 762.2,612.3C761.8,614.0 759.9,616.2 759.0,616.3C758.1,616.4 753.0,614.9 752.0,614.0C751.0,613.1 748.4,608.8 747.6,605.7C746.8,602.6 743.8,581.5 742.7,576.4C741.6,571.2 735.9,548.4 734.5,543.9C733.1,539.4 726.5,525.4 726.4,522.7C726.3,520.0 731.8,512.9 732.9,511.3C734.0,509.7 738.2,503.3 739.4,504.0Z"/>
<path stroke-width="1.05" d="M739.4,504.0C740.8,506.6 744.9,512.8 747.6,519.4C750.3,526.0 753.3,534.9 755.7,543.9C758.1,552.9 760.8,564.5 762.2,573.2C763.6,581.9 763.9,589.5 763.9,596.0C763.9,602.5 763.0,608.9 762.2,612.3C761.4,615.7 759.5,615.6 759.0,616.3"/>
<path d="M732.9,511.3C733.5,511.0 734.9,509.2 736.2,509.7C737.6,510.1 738.6,509.7 741.0,514.0C743.4,518.3 748.1,526.7 750.8,535.7C753.5,544.8 755.9,558.2 757.3,568.3C758.7,578.3 759.3,589.2 759.0,596.0C758.7,602.8 756.2,606.8 755.7,609.0"/>
<path d="M728.0,521.0C728.5,520.7 729.4,518.3 731.3,519.4C733.2,520.5 736.7,522.2 739.4,527.6C742.1,533.0 745.1,543.3 747.6,552.0C750.1,560.7 752.8,571.6 754.1,579.7C755.5,587.9 756.0,596.0 755.7,600.9C755.4,605.8 753.0,607.6 752.5,609.0"/>
<path stroke-width="1.1" d="M726.4,522.7C727.8,526.2 731.8,535.0 734.5,543.9C737.2,552.8 740.8,567.7 742.7,576.4C744.6,585.1 745.2,591.1 746.0,596.0C746.8,600.9 746.6,603.0 747.6,605.7C748.6,608.4 750.1,610.2 752.0,612.0C753.9,613.8 757.8,615.6 759.0,616.3"/>
<path stroke="#333" stroke-width="1.6" d="M730.0,528.0C731.2,531.3 734.7,540.2 737.0,548.0C739.3,555.8 742.2,567.0 744.0,575.0C745.8,583.0 747.0,590.8 748.0,596.0C749.0,601.2 749.7,604.3 750.0,606.0"/>
<path stroke="#555" stroke-width="1.2" d="M733.0,526.0C734.3,529.7 738.5,539.7 741.0,548.0C743.5,556.3 746.3,567.7 748.0,576.0C749.7,584.3 750.5,594.3 751.0,598.0"/>
<path stroke="#444" stroke-width="1.3" d="M740.0,532.0C741.0,535.3 744.2,544.5 746.0,552.0C747.8,559.5 749.8,569.3 751.0,577.0C752.2,584.7 752.7,594.5 753.0,598.0"/>
<path d="M744.0,520.0C745.2,523.3 748.8,531.7 751.0,540.0C753.2,548.3 755.5,560.3 757.0,570.0C758.5,579.7 759.8,591.0 760.0,598.0C760.2,605.0 758.3,609.7 758.0,612.0"/>
<path d="M755.0,600.0C754.5,601.0 752.2,604.0 752.0,606.0C751.8,608.0 753.7,611.0 754.0,612.0"/>
</g>
<g id="p6">
<path stroke-width="1" d="M991.1,421.2C992.3,420.4 992.5,418.5 994.8,422.4C997.1,426.3 1001.0,434.0 1004.7,444.7C1008.4,455.4 1013.3,473.1 1017.0,486.7C1020.7,500.3 1024.6,511.8 1026.9,526.2C1029.2,540.6 1030.4,559.6 1030.6,573.2C1030.8,586.8 1029.3,601.2 1028.1,607.8C1026.9,614.4 1024.8,612.7 1023.2,612.7C1021.6,612.7 1021.8,616.0 1018.3,607.8C1014.8,599.6 1007.2,578.9 1002.2,563.3C997.2,547.6 991.5,530.4 988.6,513.9C985.7,497.4 985.1,478.8 984.9,464.4C984.7,450.0 986.4,434.6 987.4,427.4C988.4,420.2 989.9,422.0 991.1,421.2Z"/>
<path stroke-width="0.9" d="M991.5,424.5C992.1,423.9 991.7,421.9 993.5,425.5C995.3,429.1 998.7,435.7 1002.2,446.0C1005.7,456.3 1010.7,474.1 1014.4,487.5C1018.1,500.9 1022.0,512.2 1024.2,526.5C1026.4,540.8 1027.6,559.8 1027.8,573.0C1028.0,586.2 1026.3,599.4 1025.5,605.5C1024.7,611.6 1024.0,609.5 1023.2,609.5C1022.4,609.5 1023.9,613.3 1020.8,605.5C1017.7,597.7 1009.7,577.8 1004.8,562.5C999.9,547.2 994.1,529.9 991.3,513.5C988.4,497.1 988.0,478.5 987.7,464.4C987.5,450.3 989.2,435.6 989.8,429.0C990.4,422.4 990.9,425.1 991.5,424.5Z"/>
<path stroke-width="1.1" d="M984.5,466 L987.5,465"/>
<path stroke-width="1.1" d="M1004.5,445 L1002,446.5"/>
<path stroke-width="1.1" d="M1017,486.7 L1014.5,487.5"/>
<path stroke-width="1.1" d="M992.5,535 L995.5,534"/>
<path stroke-width="1.1" d="M1030.5,573 L1027.7,573"/>
<path stroke-width="1.1" d="M1014,595 L1017,593"/>
<path stroke-width="1.1" d="M988,427 L990,429"/>
</g>
<g id="p1">
<path stroke-width="1.05" d="M1049.0,409.5C1050.8,409.5 1056.9,408.9 1060.0,409.5C1063.1,410.1 1065.0,411.1 1067.4,413.3C1069.8,415.5 1072.0,417.1 1074.6,422.9C1077.2,428.7 1079.2,435.4 1083.0,448.3C1086.8,461.2 1094.4,486.6 1097.6,500.0C1100.8,513.4 1101.4,519.2 1102.4,528.9C1103.4,538.5 1103.8,550.6 1103.8,557.9C1103.8,565.1 1102.9,565.6 1102.4,572.4C1101.9,579.1 1103.3,592.6 1100.9,598.4C1098.5,604.2 1090.1,605.6 1087.9,607.1"/>
<path d="M1068.0,418.0C1069.8,423.0 1074.8,434.3 1079.0,448.0C1083.2,461.7 1089.8,486.3 1093.0,500.0C1096.2,513.7 1096.9,520.0 1098.0,530.0C1099.1,540.0 1099.5,550.0 1099.5,560.0C1099.5,570.0 1098.2,585.0 1098.0,590.0"/>
<path d="M1044.5,426.5 L1052.3,425.3"/>
<path d="M1060.2,439.8 L1078.3,438.6"/>
<path d="M1040.9,457.9 L1050.5,456.7"/>
<path d="M1075.8,478.4 L1087.9,477.2"/>
<path d="M1053.2,536.2 L1062,535"/>
<path d="M1064.7,574.5 L1102.4,568"/>
<path d="M1090.8,560.8 L1103,558"/>
<path d="M1044,500 L1052,499"/>
<ellipse cx="1065" cy="503.5" rx="12.5" ry="55" transform="rotate(-8 1065 503.5)" stroke-width="1.1"/>
<path stroke="#111" stroke-width="1.8" d="M1083.5,607.1C1082.5,607.3 1079.7,609.7 1077.8,608.5C1075.9,607.3 1074.4,605.9 1072.0,599.9C1069.6,593.9 1066.7,583.0 1063.3,572.4C1059.9,561.8 1055.0,548.3 1051.7,536.2C1048.4,524.1 1045.5,509.4 1043.7,500.0C1041.9,490.6 1041.6,488.6 1040.9,480.0C1040.2,471.4 1039.6,458.6 1039.7,448.3C1039.8,438.0 1040.7,424.2 1041.5,418.0C1042.3,411.8 1043.2,412.3 1044.5,410.9C1045.8,409.5 1048.2,409.7 1049.0,409.5"/>
<path stroke-width="1" d="M1085.0,604.0C1084.0,604.0 1082.0,608.8 1079.0,604.0C1076.0,599.2 1071.0,586.3 1067.0,575.0C1063.0,563.7 1058.3,548.5 1055.0,536.0C1051.7,523.5 1048.9,512.7 1047.0,500.0C1045.1,487.3 1044.0,472.5 1043.5,460.0C1043.0,447.5 1043.4,432.7 1044.0,425.0C1044.6,417.3 1046.5,415.8 1047.0,414.0"/>
<path stroke="#111" stroke-width="1.7" d="M1046.9,416.9C1048.1,419.1 1051.7,424.6 1054.1,430.2C1056.5,435.8 1058.8,442.7 1061.4,450.7C1064.0,458.7 1067.6,470.2 1069.8,478.4C1072.0,486.6 1073.0,492.8 1074.6,500.0C1076.2,507.2 1078.1,514.5 1079.2,521.7C1080.3,528.9 1081.2,535.0 1081.4,543.4C1081.7,551.8 1081.1,562.8 1080.7,572.4C1080.3,582.0 1079.8,595.5 1079.2,601.3C1078.6,607.1 1077.4,606.0 1077.0,607.0"/>
<path d="M1049.0,409.5C1050.7,411.9 1056.1,417.2 1059.0,424.1C1061.9,431.0 1063.4,438.1 1066.2,450.7C1069.0,463.3 1073.2,487.6 1075.8,500.0C1078.4,512.4 1080.5,516.7 1082.0,525.0C1083.5,533.3 1084.1,540.8 1084.5,550.0C1084.9,559.2 1084.8,571.0 1084.5,580.0C1084.2,589.0 1083.2,600.0 1083.0,604.0"/>
<path fill="#fff" stroke-width="1.2" d="M1057.0,452.0C1057.2,450.2 1060.2,448.8 1062.0,448.5C1063.8,448.2 1073.0,448.6 1075.0,449.0C1077.0,449.4 1080.5,451.4 1082.0,452.0C1083.5,452.6 1088.6,455.1 1090.0,455.0C1091.4,454.9 1095.1,451.2 1096.0,451.0C1096.9,450.8 1098.9,452.1 1099.0,453.0C1099.1,453.9 1097.9,458.7 1097.0,460.0C1096.1,461.3 1091.7,465.4 1090.0,466.0C1088.3,466.6 1082.0,465.9 1080.0,466.0C1078.0,466.1 1072.0,467.0 1070.0,467.0C1068.0,467.0 1061.3,467.5 1060.0,466.0C1058.7,464.5 1056.8,453.8 1057.0,452.0Z"/>
<path stroke-width="1.2" d="M1072,452 L1078,462 L1086,458 M1064,459 L1082,455 M1086,458 L1091,463 M1080,466 L1083,470"/>
<path stroke-width="1.3" d="M1061,450 L1063,466 M1089,460 L1092,468"/>
<path stroke-width="1.4" d="M1040,440 Q1033,437 1033,443 Q1033,447 1039,447 M1040,448 Q1032,446 1032,452 Q1033,456 1040,455"/>
<path fill="#fff" stroke-width="1.2" d="M1076.3,575.0C1077.0,573.1 1083.1,571.5 1085.0,571.0C1086.9,570.5 1093.1,570.0 1095.0,570.0C1096.9,570.0 1102.3,570.6 1104.0,571.0C1105.7,571.4 1110.7,573.1 1112.0,574.0C1113.3,574.9 1116.7,579.0 1116.8,579.6C1116.9,580.2 1114.2,580.3 1113.0,580.0C1111.8,579.7 1106.5,576.8 1105.0,577.0C1103.5,577.2 1099.3,580.7 1098.0,582.0C1096.7,583.3 1093.2,589.0 1092.0,590.0C1090.8,591.0 1087.4,592.0 1086.0,592.0C1084.6,592.0 1079.0,591.7 1078.0,590.0C1077.0,588.3 1075.6,576.9 1076.3,575.0Z"/>
<path stroke-width="1.1" d="M1076.0,590.0C1076.7,591.3 1077.7,596.3 1080.0,598.0C1082.3,599.7 1086.7,600.2 1090.0,600.0C1093.3,599.8 1098.3,597.5 1100.0,597.0"/>
<path stroke-width="1.2" d="M1082,578 L1090,586 L1100,576 M1096,572 L1106,575"/>
<path fill="#fff" stroke-width="1.5" d="M1074.9,514.5 L1085.7,513 L1086.5,527 L1075.5,529 Z"/>
<path stroke-width="1.4" d="M1057,566 Q1051,566 1052,571 Q1054,574 1058,572 M1058,580 Q1053,580 1054,585 Q1056,588 1060,586"/>
</g>
<g id="p8">
<path fill="#fff" d="M147.8,601.0C149.8,600.9 156.0,599.8 160.0,600.5C164.0,601.2 168.7,602.9 172.0,605.0C175.3,607.1 178.0,609.9 180.0,613.0C182.0,616.1 189.0,620.9 184.0,623.4C179.0,625.9 155.7,627.2 150.0,628.0"/>
<path stroke-width="1.5" d="M148.0,604.0C150.0,604.0 156.0,603.2 160.0,604.0C164.0,604.8 168.7,606.7 172.0,609.0C175.3,611.3 178.7,616.5 180.0,618.0"/>
<path stroke-width="1" d="M148.0,608.0C150.0,607.9 156.0,606.8 160.0,607.5C164.0,608.2 168.7,609.9 172.0,612.0C175.3,614.1 178.7,618.7 180.0,620.0"/>
<path stroke-width="1.5" d="M148.0,612.0C150.0,611.8 156.0,610.5 160.0,611.0C164.0,611.5 168.7,613.2 172.0,615.0C175.3,616.8 178.7,620.8 180.0,622.0"/>
<path stroke-width="1" d="M148.0,616.0C150.0,615.8 156.0,614.2 160.0,614.5C164.0,614.8 168.7,616.4 172.0,618.0C175.3,619.6 178.7,623.0 180.0,624.0"/>
<path fill="#fff" d="M208.0,620.0C208.3,617.3 208.3,608.3 210.0,604.0C211.7,599.7 214.7,596.8 218.0,594.0C221.3,591.2 226.3,588.3 230.0,587.0C233.7,585.7 237.0,581.8 240.0,586.0C243.0,590.2 246.7,607.7 248.0,612.0"/>
<path stroke-width="1.5" d="M210.0,616.0C210.8,613.8 212.7,606.7 215.0,603.0C217.3,599.3 220.2,596.2 224.0,594.0C227.8,591.8 235.7,590.7 238.0,590.0"/>
<path stroke-width="1" d="M213.0,616.0C213.8,614.0 215.7,607.3 218.0,604.0C220.3,600.7 223.7,597.8 227.0,596.0C230.3,594.2 236.2,593.5 238.0,593.0"/>
<path stroke-width="1.5" d="M216.0,616.0C216.8,614.2 218.7,608.0 221.0,605.0C223.3,602.0 227.2,599.5 230.0,598.0C232.8,596.5 236.7,596.3 238.0,596.0"/>
<path stroke-width="1" d="M219.0,616.0C219.8,614.3 221.7,608.7 224.0,606.0C226.3,603.3 230.7,601.2 233.0,600.0C235.3,598.8 237.2,599.2 238.0,599.0"/>
<path fill="#fff" stroke-width="1.3" d="M120.3,601.7 L143.4,597.4 L155.0,627.8 L131.8,630.7Z"/>
<path d="M123.5,601 L134.5,630 M140,598 L151,628 M127,617 L148,613.5"/>
<circle cx="134.7" cy="606.5" r="7.2" fill="#fff" stroke-width="1.2"/><circle cx="134.9" cy="606" r="3.6"/>
<path fill="#fff" stroke-width="1.3" d="M238.8,586.8 L262.5,581.7 L272.6,610.4 L249.0,613.8Z"/>
<path d="M242,586 L252,613 M259,582.5 L269,611 M245,600 L266,596"/>
<circle cx="254" cy="590.5" r="6.3" fill="#fff" stroke-width="1.2"/><circle cx="254" cy="590.5" r="3"/>
<path fill="#fff" stroke-width="1.1" d="M114.4,675.7C114.8,677.1 119.8,696.5 120.7,699.2C121.6,701.9 128.7,719.3 130.1,722.7C131.5,726.1 143.0,754.9 144.2,757.2C145.4,759.5 146.4,762.3 150.5,761.9C154.6,761.5 210.6,751.6 214.8,751.0C219.0,750.4 221.6,749.9 222.2,751.0C222.8,752.1 224.8,768.3 225.4,769.8C226.0,771.3 227.8,776.4 231.7,776.0C235.6,775.6 288.4,764.8 292.8,763.5C297.2,762.2 305.9,755.4 306.9,754.1C307.9,752.8 309.6,743.1 310.1,741.5C310.6,739.9 314.6,727.6 314.8,725.9C315.0,724.2 313.8,713.5 313.2,711.7C312.6,709.9 304.7,696.6 303.8,694.5C302.9,692.4 297.9,676.8 297.5,675.7"/>
<path d="M155.2,693.0 L227.3,685.1 L308.5,666.3"/>
<path d="M155.2,700.8 L227.3,696.0"/>
<path stroke-width="1.1" d="M141.0,699.2C142.0,700.0 146.5,702.4 147.0,704.0C147.5,705.6 144.7,707.8 144.2,708.6"/>
<path d="M144.2,708.6 L144.2,736.8"/><path d="M148.0,709.0 L148.0,737.0"/>
<path d="M144.2,736.8 L221.0,727.4 L227.3,722.0"/>
<path stroke="#222" stroke-width="1.8" d="M159.9,707 L164.6,738.4"/>
<path stroke="#222" stroke-width="1.8" d="M175.6,705.5 L180.3,736.8"/>
<path stroke="#222" stroke-width="1.8" d="M190.5,703.9 L194.4,735.3"/>
<path stroke="#222" stroke-width="1.8" d="M205.4,701.6 L209.3,732.1"/>
<path stroke-width="1.1" d="M137.9,741.5C143.4,741.0 215.2,734.2 221.0,733.7C226.8,733.2 224.7,733.2 225.4,733.7C226.1,734.2 227.0,741.3 231.7,741.5C236.4,741.7 290.7,737.8 296.0,736.8C301.3,735.8 310.5,727.6 311.6,725.9C312.7,724.2 312.9,712.9 313.0,712.0"/>
<path d="M139.5,745.5C145.0,745.0 216.2,738.1 222.0,737.6C227.8,737.1 225.3,737.5 226.0,738.0C226.7,738.5 227.8,745.3 232.5,745.5C237.2,745.7 291.7,742.0 297.0,741.0C302.3,740.0 311.5,730.7 312.5,730.0"/>
<path d="M144.2,747.8 L150.5,761.9"/>
<path d="M222.2,751.0 L225.4,769.8"/>
<path d="M152.0,749.0 L214.8,741.0"/>
<path stroke-width="1.2" d="M155.2,749.5 L155.2,763.5"/>
<path stroke-width="1.2" d="M184.2,744 L184.2,758"/>
<path stroke-width="1.2" d="M213.2,739 L213.2,752"/>
<path stroke-width="1.2" d="M246,752.5 L246,772.5"/>
<path stroke-width="1.2" d="M258.3,748 L258.3,766.5"/>
<path stroke-width="1.2" d="M275.6,747 L275.6,764"/>
<path stroke-width="1.2" d="M288.1,743 L288.1,759"/>
<path stroke="#444" stroke-width="1.3" d="M117,680 L125,700 M120,684 L131,708 M124,686 L134,712 M127,692 L137,720 M130,698 L139,724"/>
<path d="M118.0,690.0C119.7,693.3 125.0,704.2 128.0,710.0C131.0,715.8 134.0,720.0 136.0,725.0C138.0,730.0 139.3,737.5 140.0,740.0"/>
<path d="M132.0,712.0 L142.0,705.0"/><path d="M134.0,730.0 L143.0,721.0"/>
<path d="M228.5,683.5 L230.1,733.7"/><path d="M233.2,683.5 L234.5,733.0"/>
<path stroke-width="1.3" d="M241.1,683.5 L245.8,743.1"/>
<path stroke-width="1.3" d="M281.8,678.8 L289.7,735.3"/><path d="M285.0,678.5 L292.8,735.0"/>
<path d="M297.5,675.7C298.4,678.1 301.4,685.1 303.0,690.0C304.6,694.9 306.3,702.5 307.0,705.0"/>
<path stroke="#222" stroke-width="1.9" d="M247.3,691.4 L252.0,725.9 L254.0,731.0"/>
<path stroke="#222" stroke-width="1.9" d="M269.3,688.2 L275.6,729.0"/>
<path stroke="#222" stroke-width="1.9" d="M259.1,697.6 L260.7,711.7"/>
<path d="M252.0,711.7 L270.0,709.0 L277.1,733.7 L256.0,736.0Z"/>
<ellipse cx="263" cy="719.6" rx="7" ry="5" fill="#fff" stroke-width="1.3"/><ellipse cx="263" cy="719.3" rx="3.5" ry="2.3" stroke-width="1.3"/>
<path d="M257,738 L270,736 L271,741 L258,743 Z"/>
<path fill="#fff" stroke="none" d="M120.3,636.5C120.5,635.3 124.0,632.4 124.6,632.1C125.2,631.8 128.7,631.2 131.8,630.7C134.9,630.2 182.5,622.7 186.9,622.0C191.3,621.3 215.0,618.4 220.0,617.6C225.0,616.9 283.5,607.7 287.8,607.0C292.1,606.3 304.9,603.5 306.4,604.5C307.9,605.5 317.4,624.7 318.2,627.3C319.0,629.9 323.1,653.3 323.3,656.0C323.5,658.7 322.3,679.6 321.6,681.3C320.9,683.0 310.9,689.3 309.8,689.8C308.7,690.3 304.5,692.3 300.0,692.0C295.5,691.7 227.2,684.4 220.0,684.2C212.8,684.0 159.0,688.6 155.0,688.6C151.0,688.6 142.2,684.9 140.5,684.2C138.8,683.5 123.0,674.3 121.7,674.0C120.4,673.7 115.3,678.5 115.2,678.4C115.1,678.3 118.5,673.8 118.8,672.6C119.1,671.4 120.2,657.1 120.3,655.3C120.4,653.5 120.1,637.7 120.3,636.5Z"/>
<path stroke-width="1.1" d="M120.3,655.3C120.3,654.3 120.0,641.5 120.3,640.0C120.6,638.5 123.8,632.7 124.6,632.1C125.4,631.5 127.6,631.4 131.8,630.7C136.0,630.0 181.0,622.9 186.9,622.0C192.8,621.1 213.3,618.6 220.0,617.6C226.7,616.6 283.3,608.2 287.8,607.5"/>
<path stroke-width="1" d="M131.8,630.7C133.2,633.1 138.1,640.1 140.5,645.1C142.9,650.1 144.6,655.5 146.3,661.0C148.0,666.5 149.5,673.6 150.7,678.4C151.9,683.2 153.1,688.1 153.6,690.0"/>
<path d="M142.0,666.9 L299.6,644.2"/><path d="M143.0,669.0 L299.6,646.5"/>
<path stroke-width="1.2" d="M150.0,681.3 L309.8,666.1"/><path d="M151.0,684.0 L309.8,669.0"/>
<path stroke-width="1.4" d="M114.5,675.5C115.7,675.2 117.4,672.5 121.7,674.0C126.0,675.5 134.9,681.8 140.5,684.2C146.1,686.6 141.8,689.6 155.0,688.6C168.2,687.6 194.2,681.5 220.0,678.4C245.8,675.3 294.8,671.4 309.8,670.0"/>
<path d="M116.0,680.0C117.2,679.8 118.4,677.3 123.0,679.0C127.6,680.7 127.2,689.1 143.4,690.0C159.6,690.9 192.2,686.7 220.0,684.2C247.8,681.7 295.0,676.5 310.0,675.0"/>
<path d="M287.8,607.5C289.2,610.5 294.3,619.5 296.3,625.6C298.3,631.7 298.2,640.8 299.6,644.2C301.0,647.6 303.3,642.5 304.7,645.9C306.1,649.3 307.4,661.3 308.0,664.4"/>
<path d="M120.3,655.3 L118.8,672.6 L115.2,678.4"/>
<path fill="#fff" stroke-width="1.2" d="M109.0,658.5 L120.0,657.0 L120.0,662.0 L109.0,664.0Z"/>
<path fill="#fff" stroke-width="1.2" d="M118.0,654.0 L126.0,653.0 L128.0,666.0 L119.0,667.0Z"/>
<path fill="#fff" stroke-width="1.1" d="M190.5,601.0C190.7,601.9 191.6,608.1 192.0,610.0C192.4,611.9 193.9,618.6 194.5,620.0C195.1,621.4 197.2,623.5 198.0,624.0C198.8,624.5 202.0,624.9 203.0,624.8C204.0,624.7 207.3,623.6 208.0,623.0C208.7,622.4 210.3,620.3 210.2,618.8C210.1,617.3 207.5,609.9 207.0,608.0C206.5,606.1 205.6,600.8 205.4,600.0"/>
<ellipse cx="197.8" cy="600.3" rx="7.8" ry="4.3" transform="rotate(-12 197.8 600.3)" fill="#fff" stroke-width="1.1"/>
<ellipse cx="197.8" cy="600.3" rx="6.2" ry="3" transform="rotate(-12 197.8 600.3)" stroke="#555"/>
<path fill="#fff" stroke-width="1.1" d="M287.8,607.0C289.7,606.8 304.0,604.0 306.4,604.5C308.8,605.0 310.8,609.7 312.0,612.0C313.2,614.3 317.1,622.9 318.2,627.3C319.3,631.7 323.0,650.6 323.3,656.0C323.6,661.4 322.3,678.1 321.6,681.3C320.9,684.5 317.2,687.1 316.0,688.0C314.8,688.9 310.4,689.6 309.8,689.8"/>
<path d="M296.0,606.0C297.0,608.3 300.3,613.5 302.0,620.0C303.7,626.5 305.0,637.7 306.0,645.0C307.0,652.3 307.7,660.8 308.0,664.0"/>
<path stroke="#333" stroke-width="2.4" d="M290.5,607.0C291.4,608.3 294.4,611.5 296.0,615.0C297.6,618.5 299.3,625.8 300.0,628.0"/>
</g>
<g id="p7">
<path fill="#fff" d="M385.0,670.0C385.0,673.3 384.8,685.7 385.0,690.0C385.2,694.3 384.8,694.0 386.0,696.0C387.2,698.0 389.3,700.8 392.0,702.0C394.7,703.2 398.7,703.7 402.0,703.5C405.3,703.3 409.2,702.3 412.0,701.0C414.8,699.7 417.9,701.0 418.8,695.8C419.7,690.6 417.6,674.3 417.4,670.0"/>
<path stroke-width="1.2" d="M400.5,681.5 L404.5,674.5 L409,681.5 M402.5,679 L406.5,679 L404.5,676"/>
<path fill="#fff" d="M369.3,588.0C369.6,584.3 369.6,571.3 371.0,566.0C372.4,560.7 375.4,558.3 378.0,556.0C380.6,553.7 383.8,552.3 386.8,552.0C389.8,551.7 393.4,552.8 396.0,554.0C398.6,555.2 400.3,557.0 402.5,559.0C404.7,561.0 407.5,563.7 409.0,566.0C410.5,568.3 410.8,569.8 411.3,573.0C411.8,576.2 411.9,583.0 412.0,585.0"/>
<path stroke-width="1.6" d="M373.0,583.0C373.8,581.8 375.2,578.0 378.0,576.0C380.8,574.0 386.0,571.5 390.0,571.0C394.0,570.5 399.0,571.8 402.0,573.0C405.0,574.2 407.0,577.2 408.0,578.0"/>
<path stroke-width="1.3" d="M375.0,586.0C376.0,585.0 378.2,581.7 381.0,580.0C383.8,578.3 388.2,576.3 392.0,576.0C395.8,575.7 401.0,576.8 404.0,578.0C407.0,579.2 409.0,582.2 410.0,583.0"/>
<path stroke-width="1.5" d="M371.5,570 L373,580"/>
<path fill="#fff" stroke="none" d="M380.0,587.0 L420.0,583.0 L462.0,576.0 L462.0,656.0 L435.0,660.0 L397.0,662.0 L385.0,668.0Z"/>
<path d="M386.8,587.0 L426.5,583.5"/>
<path stroke-width="1.7" d="M388.5,604.5 L429.2,600.1"/>
<path d="M388.5,608.0 L429.2,603.5"/>
<path stroke="#333" stroke-width="3" d="M397.3,659.0 L435.8,653.0"/>
<path d="M388.0,662.0 L436.0,657.0"/>
<path d="M386.0,592.0C386.8,596.7 389.5,610.3 391.0,620.0C392.5,629.7 393.9,643.3 395.0,650.0C396.1,656.7 396.9,658.3 397.3,660.0"/>
<path stroke-width="1.5" d="M397.3,585.3C399.1,590.2 405.2,605.0 407.8,615.0C410.4,625.0 412.1,636.2 413.0,645.0C413.9,653.8 413.4,663.8 413.5,667.5"/>
<path stroke-width="1.3" d="M401.0,584.0C402.8,589.0 408.9,603.8 411.5,614.0C414.1,624.2 415.6,636.2 416.5,645.0C417.4,653.8 416.9,663.3 417.0,667.0"/>
<path stroke="#444" stroke-width="2.2" d="M396,666 L420,663"/><path d="M392,670 Q405,666 420,668"/>
<path fill="#fff" stroke-width="1.1" d="M418.6,582.2C418.1,579.6 420.5,579.3 421.0,579.0C421.5,578.7 422.8,577.5 423.9,579.6C425.0,581.7 430.1,594.8 432.0,600.0C433.9,605.2 441.1,625.5 442.4,631.3C443.7,637.1 445.2,654.9 445.0,657.8C444.8,660.7 440.9,660.0 440.0,660.0C439.1,660.0 436.4,660.0 435.8,657.8C435.2,655.6 435.4,643.2 434.5,637.9C433.6,632.6 428.1,610.4 426.5,604.8C424.9,599.2 419.2,584.8 418.6,582.2Z"/>
<path d="M421.5,581.0C422.8,584.3 426.2,592.3 429.0,601.0C431.8,609.7 436.6,623.5 438.5,633.0C440.4,642.5 440.2,653.8 440.5,658.0"/>
<path stroke-width="1.2" d="M419.5,586.0C420.8,589.3 424.7,597.5 427.5,606.0C430.3,614.5 434.8,628.5 436.5,637.0C438.2,645.5 437.8,653.7 438.0,657.0"/>
<path fill="#fff" stroke-width="1.1" d="M431.8,573.0C431.4,570.4 434.8,571.7 436.0,572.0C437.2,572.3 442.0,573.0 443.7,575.6C445.4,578.2 451.5,592.5 453.0,598.1C454.5,603.7 457.8,625.5 458.3,631.3C458.8,637.1 458.9,653.6 458.3,656.5C457.7,659.4 452.9,659.9 452.0,660.0C451.1,660.1 449.4,660.7 449.0,657.8C448.6,654.9 448.6,637.3 447.7,631.3C446.8,625.3 441.4,603.9 439.8,598.1C438.2,592.3 432.2,575.6 431.8,573.0Z"/>
<path stroke-width="1.3" d="M434.0,574.0C435.3,577.8 439.1,587.5 442.0,597.0C444.9,606.5 449.7,621.0 451.5,631.0C453.3,641.0 452.8,652.7 453.0,657.0"/>
<path d="M437.0,574.0C438.4,577.8 442.6,587.5 445.5,597.0C448.4,606.5 452.8,621.0 454.5,631.0C456.2,641.0 455.8,652.7 456.0,657.0"/>
<path stroke-width="1.6" d="M447.0,577.0C448.5,580.3 453.6,588.0 456.0,597.0C458.4,606.0 460.6,621.3 461.5,631.0C462.4,640.7 461.5,651.0 461.5,655.0"/>
<path stroke="#111" stroke-width="3.5" d="M433,573 L437,576"/>
<path fill="#fff" stroke-width="1.1" d="M362.3,581.8C362.9,581.8 366.2,581.8 368.0,582.0C369.8,582.2 378.2,582.2 380.0,584.0C381.8,585.8 384.8,594.4 386.0,600.0C387.2,605.6 391.4,632.5 392.0,640.0C392.6,647.5 392.7,671.0 392.0,674.5C391.3,678.0 386.6,675.0 385.0,675.0C383.4,675.0 377.2,674.5 376.3,674.5"/>
<path stroke-width="1.2" d="M369.0,584.0C370.2,588.3 373.7,599.8 376.0,610.0C378.3,620.2 381.5,634.7 383.0,645.0C384.5,655.3 384.7,667.5 385.0,672.0"/>
<path stroke-width="1" d="M372.6,584.0C374.0,588.3 378.5,599.8 380.8,610.0C383.1,620.2 385.4,634.7 386.6,645.0C387.8,655.3 387.8,667.5 388.0,672.0"/>
<path stroke-width="1.6" d="M375.0,584.0C376.5,588.3 381.7,599.8 384.0,610.0C386.3,620.2 388.0,634.7 389.0,645.0C390.0,655.3 389.8,667.5 390.0,672.0"/>
<path stroke-width="1" d="M378.0,584.0C379.7,588.3 385.7,599.8 388.0,610.0C390.3,620.2 391.2,634.7 392.0,645.0C392.8,655.3 392.4,667.5 392.5,672.0"/>
<ellipse cx="369.3" cy="628.2" rx="12.5" ry="47" transform="rotate(-9 369.3 628.2)" fill="#fff" stroke-width="1.3"/>
<ellipse cx="370.3" cy="628.5" rx="10.5" ry="44.5" transform="rotate(-9 370.3 628.5)" stroke="#333" stroke-width="1.2"/>
<path stroke="#555" stroke-width="1.0" d="M365.9,587.4C366.3,587.9 367.5,588.9 368.4,590.2C369.2,591.5 370.1,593.2 371.0,595.2C371.9,597.3 372.8,599.7 373.6,602.4C374.5,605.0 375.3,608.1 376.1,611.2C376.8,614.3 377.6,617.6 378.2,621.0C378.9,624.4 379.5,627.9 379.9,631.3C380.4,634.8 380.8,638.3 381.1,641.5C381.4,644.8 381.6,648.0 381.7,651.0C381.7,653.9 381.7,656.7 381.6,659.1C381.4,661.4 381.2,663.6 380.8,665.3C380.5,667.0 380.0,668.4 379.5,669.4C379.0,670.3 378.0,670.7 377.6,671.0"/>
<path stroke="#666" stroke-width="1.0" d="M366.4,588.4C366.8,588.9 367.8,589.8 368.6,591.1C369.4,592.4 370.2,594.1 371.0,596.1C371.8,598.1 372.6,600.5 373.4,603.1C374.2,605.7 375.0,608.7 375.7,611.7C376.5,614.7 377.2,618.0 377.8,621.3C378.4,624.6 379.0,628.1 379.4,631.4C379.9,634.7 380.3,638.2 380.6,641.3C380.9,644.5 381.1,647.7 381.3,650.5C381.4,653.4 381.4,656.1 381.3,658.4C381.2,660.8 381.0,662.9 380.7,664.5C380.4,666.2 380.1,667.5 379.6,668.5C379.2,669.4 378.3,669.7 378.0,670.0"/>
<path stroke="#555" stroke-width="1.0" d="M366.9,589.4C367.2,589.9 368.2,590.8 368.8,592.1C369.5,593.3 370.3,595.0 371.0,597.0C371.7,599.0 372.5,601.3 373.2,603.8C374.0,606.4 374.7,609.3 375.4,612.2C376.1,615.2 376.7,618.4 377.3,621.6C377.9,624.8 378.5,628.2 378.9,631.5C379.4,634.7 379.8,638.1 380.1,641.2C380.5,644.3 380.7,647.4 380.8,650.1C381.0,652.9 381.0,655.5 381.0,657.8C381.0,660.1 380.8,662.1 380.6,663.7C380.4,665.3 380.1,666.7 379.7,667.5C379.3,668.4 378.6,668.8 378.3,669.0"/>
<path stroke="#666" stroke-width="1.0" d="M367.4,590.4C367.6,590.9 368.5,591.8 369.1,593.1C369.7,594.3 370.4,595.9 371.0,597.9C371.7,599.8 372.4,602.1 373.0,604.6C373.7,607.0 374.4,609.9 375.0,612.8C375.7,615.7 376.3,618.8 376.9,621.9C377.4,625.1 378.0,628.4 378.5,631.5C378.9,634.7 379.3,638.0 379.7,641.0C380.0,644.0 380.3,647.0 380.4,649.7C380.6,652.4 380.7,655.0 380.7,657.2C380.7,659.4 380.7,661.4 380.5,662.9C380.4,664.5 380.1,665.8 379.8,666.6C379.5,667.5 378.9,667.8 378.7,668.0"/>
<path stroke="#444" stroke-width="1.3" d="M367.8,591.4C368.1,591.9 368.8,592.8 369.3,594.0C369.9,595.2 370.4,596.9 371.0,598.7C371.6,600.6 372.2,602.9 372.9,605.3C373.5,607.7 374.1,610.5 374.7,613.3C375.3,616.1 375.9,619.2 376.4,622.2C377.0,625.3 377.5,628.5 378.0,631.6C378.4,634.7 378.8,637.9 379.2,640.8C379.5,643.8 379.8,646.7 380.0,649.3C380.2,651.9 380.4,654.4 380.4,656.6C380.5,658.7 380.5,660.6 380.4,662.1C380.3,663.7 380.2,664.9 379.9,665.7C379.7,666.5 379.2,666.8 379.0,667.0"/>
<path stroke="#555" stroke-width="1.0" d="M368.3,592.9C368.5,593.3 369.1,594.3 369.5,595.5C369.9,596.6 370.4,598.2 370.9,600.0C371.4,601.8 372.0,604.0 372.5,606.4C373.0,608.7 373.6,611.3 374.1,614.1C374.6,616.8 375.2,619.7 375.7,622.7C376.2,625.6 376.7,628.7 377.2,631.7C377.6,634.7 378.0,637.7 378.4,640.5C378.7,643.4 379.1,646.1 379.3,648.7C379.6,651.2 379.8,653.6 379.9,655.6C380.0,657.6 380.1,659.5 380.1,660.9C380.1,662.4 380.0,663.5 379.9,664.3C379.8,665.1 379.4,665.3 379.3,665.5"/>
<path stroke="#111" stroke-width="3" d="M361,583 L363,588"/>
</g>
<g id="p10">
<path stroke-width="1" d="M228.9,393.3C231.4,392.9 244.5,390.6 247.8,390.1C251.1,389.6 251.3,388.7 253.6,389.2C255.9,389.7 262.6,391.6 265.2,393.5C267.8,395.4 271.2,399.6 272.9,403.2C274.6,406.8 277.2,416.8 277.7,420.5C278.2,424.2 278.0,428.2 276.8,431.2C275.6,434.2 271.7,440.4 269.0,442.7C266.3,445.0 268.9,446.3 256.5,448.5C244.1,450.7 187.5,457.2 175.8,458.9C164.1,460.6 170.2,460.5 169.0,461.0C167.8,461.5 167.0,461.2 166.5,462.9C166.0,464.6 162.9,464.0 165.2,473.5C167.5,483.0 181.3,526.4 183.8,534.5"/>
<path stroke-width="1" d="M232.9,408.5C235.2,408.0 246.9,404.8 250.2,404.6C253.5,404.4 255.9,405.1 257.5,407.0C259.1,408.9 261.7,416.0 262.3,418.6C262.9,421.2 262.7,424.6 262.3,426.3C261.9,428.0 260.6,430.2 259.4,431.2C258.2,432.2 265.1,432.0 253.6,433.6C242.1,435.2 185.3,441.5 173.2,443.0C161.1,444.5 165.3,443.8 163.0,445.0C160.7,446.2 157.6,449.9 156.0,452.2C154.4,454.5 151.7,459.9 151.0,462.0C150.3,464.1 150.5,466.3 150.6,468.2C150.7,470.1 149.9,466.5 152.0,476.0C154.1,485.5 164.6,531.3 166.5,539.8"/>
<ellipse cx="230.9" cy="400.9" rx="3.2" ry="7.6" transform="rotate(-12 230.9 400.9)" fill="#fff"/>
<ellipse cx="230.5" cy="401" rx="1.8" ry="5" transform="rotate(-12 230.5 401)"/>
<ellipse cx="175.5" cy="541.5" rx="9.2" ry="4.6" transform="rotate(-14 175.5 541.5)" fill="#fff"/>
<ellipse cx="175.5" cy="541.5" rx="6.8" ry="3.2" transform="rotate(-14 175.5 541.5)"/>
<path d="M247.8,390.1 Q249.5,397 250.2,404.6 M259.5,410 Q266,404 272.9,403.2 M262,417 Q270,413.5 276.5,414 M253.6,433.6 Q257,440 256.5,448.5"/>
<path d="M173.2,443 L175.8,458.9"/>
<path d="M151.5,465 L165.6,470"/>
<path d="M162,523 L180,518"/>
</g>
<g id="p9">
<g transform="translate(0,0)">
<path fill="#fff" stroke="none" d="M191.0,509.0C191.7,506.7 197.1,498.8 199.5,496.9C201.9,495.0 212.1,490.4 215.2,489.7C218.3,489.0 228.4,489.3 230.8,489.7C233.2,490.1 237.1,491.2 239.3,493.3C241.5,495.4 250.9,507.7 252.6,510.2C254.3,512.7 255.0,516.0 256.2,518.6C257.4,521.2 263.9,533.0 264.6,536.7C265.3,540.4 263.7,553.2 263.0,556.0C262.3,558.8 259.2,562.8 257.4,564.4C255.6,566.0 247.4,571.0 245.0,572.0C242.6,573.0 236.3,574.3 233.3,574.1C230.3,573.9 217.9,571.0 215.0,570.0C212.1,569.0 205.8,566.6 204.3,564.4C202.8,562.2 201.1,550.9 200.1,547.6C199.1,544.4 195.5,534.7 194.7,531.9C193.9,529.1 192.6,522.1 192.2,519.8C191.8,517.5 190.3,511.3 191.0,509.0Z"/>
<path stroke-width="1.2" d="M191.0,509.0C191.2,510.8 191.6,516.0 192.2,519.8C192.8,523.6 193.4,527.3 194.7,531.9C196.0,536.5 199.2,545.0 200.1,547.6"/>
<path stroke-width="1.2" d="M241.0,496.0C242.9,498.4 250.1,506.4 252.6,510.2C255.1,514.0 254.6,515.0 256.2,518.6C257.8,522.2 261.0,529.8 262.0,532.0"/>
<path stroke-width="1.2" d="M191.0,509.0C192.4,507.0 195.5,500.1 199.5,496.9C203.5,493.7 210.0,490.9 215.2,489.7C220.4,488.5 226.8,489.1 230.8,489.7C234.8,490.3 237.9,492.7 239.3,493.3"/>
<path d="M193.5,513.0C195.1,511.1 199.0,504.6 203.0,501.7C207.0,498.8 212.5,496.5 217.5,495.5C222.5,494.5 229.1,494.9 233.0,495.5C236.9,496.1 239.7,498.4 241.0,499.0"/>
<path d="M218,491 L219,496 M233.5,490 L234.5,496"/>
<path stroke="#1d1d1d" stroke-width="2" d="M192.5,515.0C194.6,513.5 201.2,508.0 205.0,506.0C208.8,504.0 209.5,503.8 215.2,502.9C220.9,502.0 233.3,499.5 239.3,500.5C245.3,501.5 249.3,507.6 251.3,509.0"/>
<path d="M192.5,517.8C194.6,516.3 201.2,510.8 205.0,508.8C208.8,506.8 209.5,506.6 215.2,505.7C220.9,504.8 233.3,502.3 239.3,503.3C245.3,504.3 249.3,510.4 251.3,511.8"/>
<path stroke="#1d1d1d" stroke-width="2" d="M193.5,523.0C195.8,521.2 203.1,514.3 207.0,512.0C210.9,509.7 211.5,509.8 217.0,509.0C222.5,508.2 233.8,506.0 240.0,507.0C246.2,508.0 251.7,513.7 254.0,515.0"/>
<path d="M193.5,525.8C195.8,524.0 203.1,517.1 207.0,514.8C210.9,512.5 211.5,512.6 217.0,511.8C222.5,511.0 233.8,508.8 240.0,509.8C246.2,510.8 251.7,516.5 254.0,517.8"/>
<path stroke="#1d1d1d" stroke-width="2" d="M195.0,530.0C197.2,528.0 203.8,520.5 208.0,518.0C212.2,515.5 214.3,515.8 220.0,515.0C225.7,514.2 236.0,512.0 242.0,513.0C248.0,514.0 253.7,519.7 256.0,521.0"/>
<path d="M195.0,532.8C197.2,530.8 203.8,523.3 208.0,520.8C212.2,518.3 214.3,518.6 220.0,517.8C225.7,517.0 236.0,514.8 242.0,515.8C248.0,516.8 253.7,522.5 256.0,523.8"/>
<path stroke="#1d1d1d" stroke-width="2" d="M197.0,537.0C199.2,535.0 205.5,527.7 210.0,525.0C214.5,522.3 218.2,521.8 224.0,521.0C229.8,520.2 239.2,518.8 245.0,520.0C250.8,521.2 256.7,526.7 259.0,528.0"/>
<path d="M197.0,539.8C199.2,537.8 205.5,530.5 210.0,527.8C214.5,525.1 218.2,524.6 224.0,523.8C229.8,523.0 239.2,521.6 245.0,522.8C250.8,524.0 256.7,529.5 259.0,530.8"/>
<path stroke="#1d1d1d" stroke-width="2" d="M199.0,543.0C201.2,541.0 207.2,533.7 212.0,531.0C216.8,528.3 222.0,527.7 228.0,527.0C234.0,526.3 242.5,525.8 248.0,527.0C253.5,528.2 258.8,532.8 261.0,534.0"/>
<path d="M199.0,545.8C201.2,543.8 207.2,536.5 212.0,533.8C216.8,531.1 222.0,530.5 228.0,529.8C234.0,529.1 242.5,528.6 248.0,529.8C253.5,531.0 258.8,535.6 261.0,536.8"/>
<ellipse cx="232.3" cy="547" rx="32.3" ry="27" transform="rotate(-8 232.3 547)" fill="#fff" stroke-width="1.2"/>
<ellipse cx="233" cy="546.8" rx="27.5" ry="22.5" transform="rotate(-8 233 546.8)" stroke-width="1.1"/>
<ellipse cx="233.5" cy="547" rx="25.5" ry="21" transform="rotate(-8 233.5 547)" stroke="#444" stroke-width="1.6"/>
<clipPath id="hc0"><ellipse cx="233.5" cy="547" rx="25" ry="20.5" transform="rotate(-8 233.5 547)"/></clipPath>
<g clip-path="url(#hc0)">
<ellipse cx="230.7" cy="541.8" rx="24.4" ry="20.0" transform="rotate(-8 230.7 541.8)" stroke-width="1.7"/>
<ellipse cx="227.9" cy="536.6" rx="23.8" ry="19.5" transform="rotate(-8 227.9 536.6)" stroke-width="1.1"/>
<ellipse cx="225.1" cy="531.4" rx="23.2" ry="19.0" transform="rotate(-8 225.1 531.4)" stroke-width="1.7"/>
<ellipse cx="222.3" cy="526.2" rx="22.6" ry="18.5" transform="rotate(-8 222.3 526.2)" stroke-width="1.1"/>
<ellipse cx="219.5" cy="521.0" rx="22.0" ry="18.0" transform="rotate(-8 219.5 521.0)" stroke-width="1.7"/>
</g>
<path d="M221,532 L225,547"/>
<path d="M229,523 L229,527 M233,523 L233,527"/>
<path fill="#fff" stroke-width="1.2" d="M239.3,492.0 L244.0,490.9 L251.3,502.0 L249.0,505.3 L244.0,505.0 L240.0,499.0Z"/>
<path stroke-width="1.3" d="M241,494 L248,492"/>
<path fill="#fff" stroke-width="1.2" d="M192.0,538.0 L198.0,536.5 L200.7,552.4 L194.0,553.0Z"/>
<path stroke-width="1.2" d="M191.5,541 L199,539.5"/>
</g>
<g transform="translate(-124.5,16.5)">
<path fill="#fff" stroke="none" d="M191.0,509.0C191.7,506.7 197.1,498.8 199.5,496.9C201.9,495.0 212.1,490.4 215.2,489.7C218.3,489.0 228.4,489.3 230.8,489.7C233.2,490.1 237.1,491.2 239.3,493.3C241.5,495.4 250.9,507.7 252.6,510.2C254.3,512.7 255.0,516.0 256.2,518.6C257.4,521.2 263.9,533.0 264.6,536.7C265.3,540.4 263.7,553.2 263.0,556.0C262.3,558.8 259.2,562.8 257.4,564.4C255.6,566.0 247.4,571.0 245.0,572.0C242.6,573.0 236.3,574.3 233.3,574.1C230.3,573.9 217.9,571.0 215.0,570.0C212.1,569.0 205.8,566.6 204.3,564.4C202.8,562.2 201.1,550.9 200.1,547.6C199.1,544.4 195.5,534.7 194.7,531.9C193.9,529.1 192.6,522.1 192.2,519.8C191.8,517.5 190.3,511.3 191.0,509.0Z"/>
<path stroke-width="1.2" d="M191.0,509.0C191.2,510.8 191.6,516.0 192.2,519.8C192.8,523.6 193.4,527.3 194.7,531.9C196.0,536.5 199.2,545.0 200.1,547.6"/>
<path stroke-width="1.2" d="M241.0,496.0C242.9,498.4 250.1,506.4 252.6,510.2C255.1,514.0 254.6,515.0 256.2,518.6C257.8,522.2 261.0,529.8 262.0,532.0"/>
<path stroke-width="1.2" d="M191.0,509.0C192.4,507.0 195.5,500.1 199.5,496.9C203.5,493.7 210.0,490.9 215.2,489.7C220.4,488.5 226.8,489.1 230.8,489.7C234.8,490.3 237.9,492.7 239.3,493.3"/>
<path d="M193.5,513.0C195.1,511.1 199.0,504.6 203.0,501.7C207.0,498.8 212.5,496.5 217.5,495.5C222.5,494.5 229.1,494.9 233.0,495.5C236.9,496.1 239.7,498.4 241.0,499.0"/>
<path d="M218,491 L219,496 M233.5,490 L234.5,496"/>
<path stroke="#1d1d1d" stroke-width="2" d="M192.5,515.0C194.6,513.5 201.2,508.0 205.0,506.0C208.8,504.0 209.5,503.8 215.2,502.9C220.9,502.0 233.3,499.5 239.3,500.5C245.3,501.5 249.3,507.6 251.3,509.0"/>
<path d="M192.5,517.8C194.6,516.3 201.2,510.8 205.0,508.8C208.8,506.8 209.5,506.6 215.2,505.7C220.9,504.8 233.3,502.3 239.3,503.3C245.3,504.3 249.3,510.4 251.3,511.8"/>
<path stroke="#1d1d1d" stroke-width="2" d="M193.5,523.0C195.8,521.2 203.1,514.3 207.0,512.0C210.9,509.7 211.5,509.8 217.0,509.0C222.5,508.2 233.8,506.0 240.0,507.0C246.2,508.0 251.7,513.7 254.0,515.0"/>
<path d="M193.5,525.8C195.8,524.0 203.1,517.1 207.0,514.8C210.9,512.5 211.5,512.6 217.0,511.8C222.5,511.0 233.8,508.8 240.0,509.8C246.2,510.8 251.7,516.5 254.0,517.8"/>
<path stroke="#1d1d1d" stroke-width="2" d="M195.0,530.0C197.2,528.0 203.8,520.5 208.0,518.0C212.2,515.5 214.3,515.8 220.0,515.0C225.7,514.2 236.0,512.0 242.0,513.0C248.0,514.0 253.7,519.7 256.0,521.0"/>
<path d="M195.0,532.8C197.2,530.8 203.8,523.3 208.0,520.8C212.2,518.3 214.3,518.6 220.0,517.8C225.7,517.0 236.0,514.8 242.0,515.8C248.0,516.8 253.7,522.5 256.0,523.8"/>
<path stroke="#1d1d1d" stroke-width="2" d="M197.0,537.0C199.2,535.0 205.5,527.7 210.0,525.0C214.5,522.3 218.2,521.8 224.0,521.0C229.8,520.2 239.2,518.8 245.0,520.0C250.8,521.2 256.7,526.7 259.0,528.0"/>
<path d="M197.0,539.8C199.2,537.8 205.5,530.5 210.0,527.8C214.5,525.1 218.2,524.6 224.0,523.8C229.8,523.0 239.2,521.6 245.0,522.8C250.8,524.0 256.7,529.5 259.0,530.8"/>
<path stroke="#1d1d1d" stroke-width="2" d="M199.0,543.0C201.2,541.0 207.2,533.7 212.0,531.0C216.8,528.3 222.0,527.7 228.0,527.0C234.0,526.3 242.5,525.8 248.0,527.0C253.5,528.2 258.8,532.8 261.0,534.0"/>
<path d="M199.0,545.8C201.2,543.8 207.2,536.5 212.0,533.8C216.8,531.1 222.0,530.5 228.0,529.8C234.0,529.1 242.5,528.6 248.0,529.8C253.5,531.0 258.8,535.6 261.0,536.8"/>
<ellipse cx="232.3" cy="547" rx="32.3" ry="27" transform="rotate(-8 232.3 547)" fill="#fff" stroke-width="1.2"/>
<ellipse cx="233" cy="546.8" rx="27.5" ry="22.5" transform="rotate(-8 233 546.8)" stroke-width="1.1"/>
<ellipse cx="233.5" cy="547" rx="25.5" ry="21" transform="rotate(-8 233.5 547)" stroke="#444" stroke-width="1.6"/>
<clipPath id="hc124"><ellipse cx="233.5" cy="547" rx="25" ry="20.5" transform="rotate(-8 233.5 547)"/></clipPath>
<g clip-path="url(#hc124)">
<ellipse cx="230.7" cy="541.8" rx="24.4" ry="20.0" transform="rotate(-8 230.7 541.8)" stroke-width="1.7"/>
<ellipse cx="227.9" cy="536.6" rx="23.8" ry="19.5" transform="rotate(-8 227.9 536.6)" stroke-width="1.1"/>
<ellipse cx="225.1" cy="531.4" rx="23.2" ry="19.0" transform="rotate(-8 225.1 531.4)" stroke-width="1.7"/>
<ellipse cx="222.3" cy="526.2" rx="22.6" ry="18.5" transform="rotate(-8 222.3 526.2)" stroke-width="1.1"/>
<ellipse cx="219.5" cy="521.0" rx="22.0" ry="18.0" transform="rotate(-8 219.5 521.0)" stroke-width="1.7"/>
</g>
<path d="M221,532 L225,547"/>
<path d="M229,523 L229,527 M233,523 L233,527"/>
<path fill="#fff" stroke-width="1.2" d="M239.3,492.0 L244.0,490.9 L251.3,502.0 L249.0,505.3 L244.0,505.0 L240.0,499.0Z"/>
<path stroke-width="1.3" d="M241,494 L248,492"/>
<path fill="#fff" stroke-width="1.2" d="M192.0,538.0 L198.0,536.5 L200.7,552.4 L194.0,553.0Z"/>
<path stroke-width="1.2" d="M191.5,541 L199,539.5"/>
</g>
</g>
<g id="p11" stroke-width="1">
<path d="M44.9,649.0C45.1,648.3 45.5,645.7 46.3,644.6C47.1,643.5 48.8,642.7 49.9,642.4C51.0,642.1 52.1,642.4 53.0,643.0C53.9,643.6 53.2,641.9 55.0,646.0C56.8,650.1 62.2,664.2 63.7,667.8"/>
<path d="M44.9,649.0C45.6,650.8 47.6,656.6 49.0,660.0C50.4,663.4 52.8,667.7 53.5,669.2"/>
<path fill="#fff" d="M32.6,646.0C32.5,644.4 33.5,642.5 34.0,642.0C34.5,641.5 36.8,640.2 37.6,640.5C38.4,640.8 41.4,643.2 42.0,644.6C42.6,646.0 42.8,652.5 43.4,654.7C44.0,656.9 46.8,664.6 47.8,666.3C48.8,668.0 52.5,671.4 53.5,672.1C54.5,672.8 57.2,672.6 57.9,673.5C58.6,674.4 60.9,680.7 60.8,681.5C60.6,682.3 58.1,681.9 56.4,681.5C54.7,681.1 45.1,679.0 43.4,677.9C41.7,676.8 39.9,672.6 39.0,670.6C38.1,668.6 35.3,660.1 34.7,657.6C34.1,655.1 32.7,647.6 32.6,646.0Z"/>
<path d="M34.7,654.5 L42.5,653 M39,670.6 L46,666"/>
<path fill="#fff" d="M56.4,672.5 L73.8,669.2 L75.3,677.9 L60.8,681.5Z"/>
<path d="M58,673 L59.3,681.3 M61,672.5 L62.5,681"/>
</g>
</g>
</svg>
</body></html>
